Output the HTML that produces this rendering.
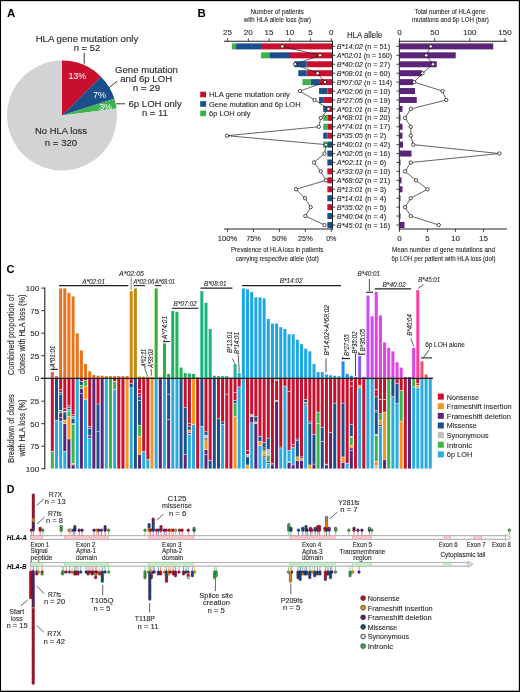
<!DOCTYPE html>
<html><head><meta charset="utf-8"><style>
html,body{margin:0;padding:0;background:#fff;overflow:hidden;}
svg{display:block;will-change:transform;font-family:"Liberation Sans", sans-serif;}
</style></head><body>
<svg width="520" height="692" viewBox="0 0 520 692">
<rect x="0" y="0" width="520" height="692" fill="#fff"/>
<text x="7" y="16.7" font-size="11.5" text-anchor="start" fill="#000" font-weight="bold">A</text>
<path d="M62,115.5 L62.00,60.50 A55,55 0 0 1 100.96,76.68 Z" fill="#c8102e"/>
<path d="M62,115.5 L100.96,76.68 A55,55 0 0 1 114.37,98.70 Z" fill="#1a4f8b"/>
<path d="M62,115.5 L114.37,98.70 A55,55 0 0 1 116.54,108.40 Z" fill="#3cb44b"/>
<path d="M62,115.5 L116.54,108.40 A55,55 0 1 1 62.00,60.50 Z" fill="#d1d3d4"/>
<text x="87" y="42.3" font-size="8.6" text-anchor="middle" fill="#231f20" stroke="#231f20" stroke-width="0.1" textLength="102.7" lengthAdjust="spacingAndGlyphs">HLA gene mutation only</text>
<text x="87" y="51.1" font-size="8.6" text-anchor="middle" fill="#231f20" stroke="#231f20" stroke-width="0.1" textLength="26.6" lengthAdjust="spacingAndGlyphs">n = 52</text>
<line x1="84.2" y1="52.9" x2="84.2" y2="63.8" stroke="#231f20" stroke-width="0.9"/>
<text x="146.5" y="72.5" font-size="8.3" text-anchor="middle" fill="#231f20" stroke="#231f20" stroke-width="0.1" textLength="62.9" lengthAdjust="spacingAndGlyphs">Gene mutation</text>
<text x="146.2" y="81.7" font-size="8.3" text-anchor="middle" fill="#231f20" stroke="#231f20" stroke-width="0.1" textLength="51.9" lengthAdjust="spacingAndGlyphs">and 6p LOH</text>
<text x="146.4" y="91.2" font-size="8.3" text-anchor="middle" fill="#231f20" stroke="#231f20" stroke-width="0.1" textLength="27.3" lengthAdjust="spacingAndGlyphs">n = 29</text>
<line x1="108.7" y1="87.9" x2="117.3" y2="81.2" stroke="#231f20" stroke-width="0.9"/>
<text x="155.1" y="107.1" font-size="8.3" text-anchor="middle" fill="#231f20" stroke="#231f20" stroke-width="0.1" textLength="53.2" lengthAdjust="spacingAndGlyphs">6p LOH only</text>
<text x="154.8" y="115.8" font-size="8.3" text-anchor="middle" fill="#231f20" stroke="#231f20" stroke-width="0.1" textLength="25.8" lengthAdjust="spacingAndGlyphs">n = 11</text>
<line x1="116.3" y1="103.8" x2="125" y2="103.8" stroke="#231f20" stroke-width="0.9"/>
<text x="77.3" y="79.4" font-size="8.7" text-anchor="middle" fill="#fff" textLength="17.7" lengthAdjust="spacingAndGlyphs">13%</text>
<text x="99.6" y="97.7" font-size="8.7" text-anchor="middle" fill="#fff" textLength="13.2" lengthAdjust="spacingAndGlyphs">7%</text>
<text x="105.6" y="109.7" font-size="8.7" text-anchor="middle" fill="#fff" textLength="12.8" lengthAdjust="spacingAndGlyphs">3%</text>
<text x="61" y="133.5" font-size="8.3" text-anchor="middle" fill="#231f20" stroke="#231f20" stroke-width="0.1" textLength="52" lengthAdjust="spacingAndGlyphs">No HLA loss</text>
<text x="61" y="145.5" font-size="8.3" text-anchor="middle" fill="#231f20" stroke="#231f20" stroke-width="0.1" textLength="32.5" lengthAdjust="spacingAndGlyphs">n = 320</text>
<text x="197.5" y="16.7" font-size="11.5" text-anchor="start" fill="#000" font-weight="bold">B</text>
<rect x="260.95" y="43.40" width="71.35" height="6.00" fill="#c8102e"/>
<rect x="236.05" y="43.40" width="24.90" height="6.00" fill="#1a4f8b"/>
<rect x="231.90" y="43.40" width="4.15" height="6.00" fill="#3cb44b"/>
<rect x="290.00" y="52.33" width="42.30" height="6.00" fill="#c8102e"/>
<rect x="269.25" y="52.33" width="20.75" height="6.00" fill="#1a4f8b"/>
<rect x="260.95" y="52.33" width="8.30" height="6.00" fill="#3cb44b"/>
<rect x="306.60" y="61.26" width="25.70" height="6.00" fill="#c8102e"/>
<rect x="294.15" y="61.26" width="12.45" height="6.00" fill="#1a4f8b"/>
<rect x="306.60" y="70.19" width="25.70" height="6.00" fill="#c8102e"/>
<rect x="298.30" y="70.19" width="8.30" height="6.00" fill="#1a4f8b"/>
<rect x="319.05" y="79.12" width="13.25" height="6.00" fill="#c8102e"/>
<rect x="310.75" y="79.12" width="8.30" height="6.00" fill="#1a4f8b"/>
<rect x="302.45" y="79.12" width="8.30" height="6.00" fill="#3cb44b"/>
<rect x="327.35" y="88.05" width="4.95" height="6.00" fill="#c8102e"/>
<rect x="319.05" y="88.05" width="8.30" height="6.00" fill="#1a4f8b"/>
<rect x="323.20" y="96.98" width="9.10" height="6.00" fill="#c8102e"/>
<rect x="319.05" y="96.98" width="4.15" height="6.00" fill="#1a4f8b"/>
<rect x="327.35" y="105.91" width="4.95" height="6.00" fill="#c8102e"/>
<rect x="323.20" y="105.91" width="4.15" height="6.00" fill="#1a4f8b"/>
<rect x="327.35" y="114.84" width="4.95" height="6.00" fill="#c8102e"/>
<rect x="323.20" y="114.84" width="4.15" height="6.00" fill="#3cb44b"/>
<rect x="327.35" y="123.77" width="4.95" height="6.00" fill="#c8102e"/>
<rect x="323.20" y="123.77" width="4.15" height="6.00" fill="#3cb44b"/>
<rect x="327.35" y="132.70" width="4.95" height="6.00" fill="#c8102e"/>
<rect x="323.20" y="132.70" width="4.15" height="6.00" fill="#1a4f8b"/>
<rect x="327.35" y="141.63" width="4.95" height="6.00" fill="#1a4f8b"/>
<rect x="323.20" y="141.63" width="4.15" height="6.00" fill="#3cb44b"/>
<rect x="327.35" y="150.56" width="4.95" height="6.00" fill="#1a4f8b"/>
<rect x="327.35" y="159.49" width="4.95" height="6.00" fill="#1a4f8b"/>
<rect x="327.35" y="168.42" width="4.95" height="6.00" fill="#c8102e"/>
<rect x="327.35" y="177.35" width="4.95" height="6.00" fill="#c8102e"/>
<rect x="327.35" y="186.28" width="4.95" height="6.00" fill="#c8102e"/>
<rect x="327.35" y="195.21" width="4.95" height="6.00" fill="#1a4f8b"/>
<rect x="327.35" y="204.14" width="4.95" height="6.00" fill="#c8102e"/>
<rect x="327.35" y="213.07" width="4.95" height="6.00" fill="#1a4f8b"/>
<rect x="327.35" y="222.00" width="4.95" height="6.00" fill="#1a4f8b"/>
<rect x="399.50" y="43.40" width="93.75" height="6.00" fill="#5c2479"/>
<rect x="399.50" y="52.33" width="56.25" height="6.00" fill="#5c2479"/>
<rect x="399.50" y="61.26" width="37.25" height="6.00" fill="#5c2479"/>
<rect x="399.50" y="70.19" width="22.50" height="6.00" fill="#5c2479"/>
<rect x="399.50" y="79.12" width="13.50" height="6.00" fill="#5c2479"/>
<rect x="399.50" y="88.05" width="15.50" height="6.00" fill="#5c2479"/>
<rect x="399.50" y="96.98" width="17.25" height="6.00" fill="#5c2479"/>
<rect x="399.50" y="105.91" width="3.00" height="6.00" fill="#5c2479"/>
<rect x="399.50" y="114.84" width="1.00" height="6.00" fill="#5c2479"/>
<rect x="399.50" y="123.77" width="3.00" height="6.00" fill="#5c2479"/>
<rect x="399.50" y="132.70" width="3.00" height="6.00" fill="#5c2479"/>
<rect x="399.50" y="141.63" width="3.50" height="6.00" fill="#5c2479"/>
<rect x="399.50" y="150.56" width="12.00" height="6.00" fill="#5c2479"/>
<rect x="399.50" y="159.49" width="1.00" height="6.00" fill="#5c2479"/>
<rect x="399.50" y="168.42" width="0.50" height="6.00" fill="#5c2479"/>
<rect x="399.50" y="177.35" width="2.00" height="6.00" fill="#5c2479"/>
<rect x="399.50" y="186.28" width="3.00" height="6.00" fill="#5c2479"/>
<rect x="399.50" y="195.21" width="1.00" height="6.00" fill="#5c2479"/>
<rect x="399.50" y="204.14" width="0.50" height="6.00" fill="#5c2479"/>
<rect x="399.50" y="213.07" width="1.00" height="6.00" fill="#5c2479"/>
<rect x="399.50" y="222.00" width="5.00" height="6.00" fill="#5c2479"/>
<line x1="224" y1="41.25" x2="333" y2="41.25" stroke="#231f20" stroke-width="1.0"/>
<line x1="332.5" y1="40.8" x2="332.5" y2="229.5" stroke="#231f20" stroke-width="1.0"/>
<line x1="224" y1="229" x2="333" y2="229" stroke="#231f20" stroke-width="1.0"/>
<line x1="227.55" y1="38.2" x2="227.55" y2="41.2" stroke="#231f20" stroke-width="0.8"/>
<text x="227.55" y="35.2" font-size="8.0" text-anchor="middle" fill="#231f20" stroke="#231f20" stroke-width="0.1">25</text>
<line x1="248.3" y1="38.2" x2="248.3" y2="41.2" stroke="#231f20" stroke-width="0.8"/>
<text x="248.3" y="35.2" font-size="8.0" text-anchor="middle" fill="#231f20" stroke="#231f20" stroke-width="0.1">20</text>
<line x1="269.05" y1="38.2" x2="269.05" y2="41.2" stroke="#231f20" stroke-width="0.8"/>
<text x="269.05" y="35.2" font-size="8.0" text-anchor="middle" fill="#231f20" stroke="#231f20" stroke-width="0.1">15</text>
<line x1="289.8" y1="38.2" x2="289.8" y2="41.2" stroke="#231f20" stroke-width="0.8"/>
<text x="289.8" y="35.2" font-size="8.0" text-anchor="middle" fill="#231f20" stroke="#231f20" stroke-width="0.1">10</text>
<line x1="310.55" y1="38.2" x2="310.55" y2="41.2" stroke="#231f20" stroke-width="0.8"/>
<text x="310.55" y="35.2" font-size="8.0" text-anchor="middle" fill="#231f20" stroke="#231f20" stroke-width="0.1">5</text>
<line x1="331.3" y1="38.2" x2="331.3" y2="41.2" stroke="#231f20" stroke-width="0.8"/>
<text x="331.3" y="35.2" font-size="8.0" text-anchor="middle" fill="#231f20" stroke="#231f20" stroke-width="0.1">0</text>
<line x1="227.55" y1="229" x2="227.55" y2="232" stroke="#231f20" stroke-width="0.8"/>
<text x="227.55" y="241.4" font-size="8.0" text-anchor="middle" fill="#231f20" stroke="#231f20" stroke-width="0.1" textLength="19.4" lengthAdjust="spacingAndGlyphs">100%</text>
<line x1="253.4875" y1="229" x2="253.4875" y2="232" stroke="#231f20" stroke-width="0.8"/>
<text x="253.4875" y="241.4" font-size="8.0" text-anchor="middle" fill="#231f20" stroke="#231f20" stroke-width="0.1" textLength="14.7" lengthAdjust="spacingAndGlyphs">75%</text>
<line x1="279.425" y1="229" x2="279.425" y2="232" stroke="#231f20" stroke-width="0.8"/>
<text x="279.425" y="241.4" font-size="8.0" text-anchor="middle" fill="#231f20" stroke="#231f20" stroke-width="0.1" textLength="14.7" lengthAdjust="spacingAndGlyphs">50%</text>
<line x1="305.3625" y1="229" x2="305.3625" y2="232" stroke="#231f20" stroke-width="0.8"/>
<text x="305.3625" y="241.4" font-size="8.0" text-anchor="middle" fill="#231f20" stroke="#231f20" stroke-width="0.1" textLength="14.7" lengthAdjust="spacingAndGlyphs">25%</text>
<line x1="331.3" y1="229" x2="331.3" y2="232" stroke="#231f20" stroke-width="0.8"/>
<text x="331.3" y="241.4" font-size="8.0" text-anchor="middle" fill="#231f20" stroke="#231f20" stroke-width="0.1" textLength="10.3" lengthAdjust="spacingAndGlyphs">0%</text>
<line x1="332.5" y1="46.4" x2="335.3" y2="46.4" stroke="#231f20" stroke-width="0.8"/>
<line x1="332.5" y1="55.33" x2="335.3" y2="55.33" stroke="#231f20" stroke-width="0.8"/>
<line x1="332.5" y1="64.25999999999999" x2="335.3" y2="64.25999999999999" stroke="#231f20" stroke-width="0.8"/>
<line x1="332.5" y1="73.19" x2="335.3" y2="73.19" stroke="#231f20" stroke-width="0.8"/>
<line x1="332.5" y1="82.12" x2="335.3" y2="82.12" stroke="#231f20" stroke-width="0.8"/>
<line x1="332.5" y1="91.05" x2="335.3" y2="91.05" stroke="#231f20" stroke-width="0.8"/>
<line x1="332.5" y1="99.97999999999999" x2="335.3" y2="99.97999999999999" stroke="#231f20" stroke-width="0.8"/>
<line x1="332.5" y1="108.91" x2="335.3" y2="108.91" stroke="#231f20" stroke-width="0.8"/>
<line x1="332.5" y1="117.84" x2="335.3" y2="117.84" stroke="#231f20" stroke-width="0.8"/>
<line x1="332.5" y1="126.77000000000001" x2="335.3" y2="126.77000000000001" stroke="#231f20" stroke-width="0.8"/>
<line x1="332.5" y1="135.7" x2="335.3" y2="135.7" stroke="#231f20" stroke-width="0.8"/>
<line x1="332.5" y1="144.63" x2="335.3" y2="144.63" stroke="#231f20" stroke-width="0.8"/>
<line x1="332.5" y1="153.56" x2="335.3" y2="153.56" stroke="#231f20" stroke-width="0.8"/>
<line x1="332.5" y1="162.49" x2="335.3" y2="162.49" stroke="#231f20" stroke-width="0.8"/>
<line x1="332.5" y1="171.42" x2="335.3" y2="171.42" stroke="#231f20" stroke-width="0.8"/>
<line x1="332.5" y1="180.35" x2="335.3" y2="180.35" stroke="#231f20" stroke-width="0.8"/>
<line x1="332.5" y1="189.28" x2="335.3" y2="189.28" stroke="#231f20" stroke-width="0.8"/>
<line x1="332.5" y1="198.21" x2="335.3" y2="198.21" stroke="#231f20" stroke-width="0.8"/>
<line x1="332.5" y1="207.14000000000001" x2="335.3" y2="207.14000000000001" stroke="#231f20" stroke-width="0.8"/>
<line x1="332.5" y1="216.07" x2="335.3" y2="216.07" stroke="#231f20" stroke-width="0.8"/>
<line x1="332.5" y1="225.0" x2="335.3" y2="225.0" stroke="#231f20" stroke-width="0.8"/>
<line x1="399" y1="41.25" x2="507" y2="41.25" stroke="#231f20" stroke-width="1.0"/>
<line x1="399.3" y1="40.8" x2="399.3" y2="229.5" stroke="#231f20" stroke-width="1.0"/>
<line x1="399" y1="229" x2="507" y2="229" stroke="#231f20" stroke-width="1.0"/>
<line x1="399.5" y1="38.2" x2="399.5" y2="41.2" stroke="#231f20" stroke-width="0.8"/>
<text x="399.5" y="35.2" font-size="8.0" text-anchor="middle" fill="#231f20" stroke="#231f20" stroke-width="0.1">0</text>
<line x1="434.65" y1="38.2" x2="434.65" y2="41.2" stroke="#231f20" stroke-width="0.8"/>
<text x="434.65" y="35.2" font-size="8.0" text-anchor="middle" fill="#231f20" stroke="#231f20" stroke-width="0.1">50</text>
<line x1="469.8" y1="38.2" x2="469.8" y2="41.2" stroke="#231f20" stroke-width="0.8"/>
<text x="469.8" y="35.2" font-size="8.0" text-anchor="middle" fill="#231f20" stroke="#231f20" stroke-width="0.1">100</text>
<line x1="504.95" y1="38.2" x2="504.95" y2="41.2" stroke="#231f20" stroke-width="0.8"/>
<text x="504.95" y="35.2" font-size="8.0" text-anchor="middle" fill="#231f20" stroke="#231f20" stroke-width="0.1">150</text>
<line x1="399.5" y1="229" x2="399.5" y2="232" stroke="#231f20" stroke-width="0.8"/>
<text x="399.5" y="241.4" font-size="8.0" text-anchor="middle" fill="#231f20" stroke="#231f20" stroke-width="0.1">0</text>
<line x1="427.5" y1="229" x2="427.5" y2="232" stroke="#231f20" stroke-width="0.8"/>
<text x="427.5" y="241.4" font-size="8.0" text-anchor="middle" fill="#231f20" stroke="#231f20" stroke-width="0.1">5</text>
<line x1="455.5" y1="229" x2="455.5" y2="232" stroke="#231f20" stroke-width="0.8"/>
<text x="455.5" y="241.4" font-size="8.0" text-anchor="middle" fill="#231f20" stroke="#231f20" stroke-width="0.1">10</text>
<line x1="483.5" y1="229" x2="483.5" y2="232" stroke="#231f20" stroke-width="0.8"/>
<text x="483.5" y="241.4" font-size="8.0" text-anchor="middle" fill="#231f20" stroke="#231f20" stroke-width="0.1">15</text>
<line x1="396.3" y1="46.4" x2="399.3" y2="46.4" stroke="#231f20" stroke-width="0.8"/>
<line x1="396.3" y1="55.33" x2="399.3" y2="55.33" stroke="#231f20" stroke-width="0.8"/>
<line x1="396.3" y1="64.25999999999999" x2="399.3" y2="64.25999999999999" stroke="#231f20" stroke-width="0.8"/>
<line x1="396.3" y1="73.19" x2="399.3" y2="73.19" stroke="#231f20" stroke-width="0.8"/>
<line x1="396.3" y1="82.12" x2="399.3" y2="82.12" stroke="#231f20" stroke-width="0.8"/>
<line x1="396.3" y1="91.05" x2="399.3" y2="91.05" stroke="#231f20" stroke-width="0.8"/>
<line x1="396.3" y1="99.97999999999999" x2="399.3" y2="99.97999999999999" stroke="#231f20" stroke-width="0.8"/>
<line x1="396.3" y1="108.91" x2="399.3" y2="108.91" stroke="#231f20" stroke-width="0.8"/>
<line x1="396.3" y1="117.84" x2="399.3" y2="117.84" stroke="#231f20" stroke-width="0.8"/>
<line x1="396.3" y1="126.77000000000001" x2="399.3" y2="126.77000000000001" stroke="#231f20" stroke-width="0.8"/>
<line x1="396.3" y1="135.7" x2="399.3" y2="135.7" stroke="#231f20" stroke-width="0.8"/>
<line x1="396.3" y1="144.63" x2="399.3" y2="144.63" stroke="#231f20" stroke-width="0.8"/>
<line x1="396.3" y1="153.56" x2="399.3" y2="153.56" stroke="#231f20" stroke-width="0.8"/>
<line x1="396.3" y1="162.49" x2="399.3" y2="162.49" stroke="#231f20" stroke-width="0.8"/>
<line x1="396.3" y1="171.42" x2="399.3" y2="171.42" stroke="#231f20" stroke-width="0.8"/>
<line x1="396.3" y1="180.35" x2="399.3" y2="180.35" stroke="#231f20" stroke-width="0.8"/>
<line x1="396.3" y1="189.28" x2="399.3" y2="189.28" stroke="#231f20" stroke-width="0.8"/>
<line x1="396.3" y1="198.21" x2="399.3" y2="198.21" stroke="#231f20" stroke-width="0.8"/>
<line x1="396.3" y1="207.14000000000001" x2="399.3" y2="207.14000000000001" stroke="#231f20" stroke-width="0.8"/>
<line x1="396.3" y1="216.07" x2="399.3" y2="216.07" stroke="#231f20" stroke-width="0.8"/>
<line x1="396.3" y1="225.0" x2="399.3" y2="225.0" stroke="#231f20" stroke-width="0.8"/>
<text x="364.6" y="38.0" font-size="8.6" text-anchor="middle" fill="#231f20" stroke="#231f20" stroke-width="0.1" textLength="35.4" lengthAdjust="spacingAndGlyphs">HLA allele</text>
<text x="336.8" y="49.00" font-size="7.4" fill="#231f20" stroke="#231f20" stroke-width="0.1" textLength="53.3" lengthAdjust="spacingAndGlyphs"><tspan font-style="italic">B*14:02</tspan> (n = 51)</text>
<text x="336.8" y="57.93" font-size="7.4" fill="#231f20" stroke="#231f20" stroke-width="0.1" textLength="55.3" lengthAdjust="spacingAndGlyphs"><tspan font-style="italic">A*02:01</tspan> (n = 160)</text>
<text x="336.8" y="66.86" font-size="7.4" fill="#231f20" stroke="#231f20" stroke-width="0.1" textLength="53.3" lengthAdjust="spacingAndGlyphs"><tspan font-style="italic">B*40:02</tspan> (n = 27)</text>
<text x="336.8" y="75.79" font-size="7.4" fill="#231f20" stroke="#231f20" stroke-width="0.1" textLength="53.3" lengthAdjust="spacingAndGlyphs"><tspan font-style="italic">B*08:01</tspan> (n = 60)</text>
<text x="336.8" y="84.72" font-size="7.4" fill="#231f20" stroke="#231f20" stroke-width="0.1" textLength="55.3" lengthAdjust="spacingAndGlyphs"><tspan font-style="italic">B*07:02</tspan> (n = 114)</text>
<text x="336.8" y="93.65" font-size="7.4" fill="#231f20" stroke="#231f20" stroke-width="0.1" textLength="53.3" lengthAdjust="spacingAndGlyphs"><tspan font-style="italic">A*02:06</tspan> (n = 10)</text>
<text x="336.8" y="102.58" font-size="7.4" fill="#231f20" stroke="#231f20" stroke-width="0.1" textLength="53.3" lengthAdjust="spacingAndGlyphs"><tspan font-style="italic">B*27:05</tspan> (n = 19)</text>
<text x="336.8" y="111.51" font-size="7.4" fill="#231f20" stroke="#231f20" stroke-width="0.1" textLength="53.3" lengthAdjust="spacingAndGlyphs"><tspan font-style="italic">A*01:01</tspan> (n = 82)</text>
<text x="336.8" y="120.44" font-size="7.4" fill="#231f20" stroke="#231f20" stroke-width="0.1" textLength="53.3" lengthAdjust="spacingAndGlyphs"><tspan font-style="italic">A*68:01</tspan> (n = 20)</text>
<text x="336.8" y="129.37" font-size="7.4" fill="#231f20" stroke="#231f20" stroke-width="0.1" textLength="53.3" lengthAdjust="spacingAndGlyphs"><tspan font-style="italic">A*74:01</tspan> (n = 17)</text>
<text x="336.8" y="138.30" font-size="7.4" fill="#231f20" stroke="#231f20" stroke-width="0.1" textLength="49.5" lengthAdjust="spacingAndGlyphs"><tspan font-style="italic">B*35:05</tspan> (n = 2)</text>
<text x="336.8" y="147.23" font-size="7.4" fill="#231f20" stroke="#231f20" stroke-width="0.1" textLength="53.3" lengthAdjust="spacingAndGlyphs"><tspan font-style="italic">B*40:01</tspan> (n = 42)</text>
<text x="336.8" y="156.16" font-size="7.4" fill="#231f20" stroke="#231f20" stroke-width="0.1" textLength="53.3" lengthAdjust="spacingAndGlyphs"><tspan font-style="italic">A*02:05</tspan> (n = 16)</text>
<text x="336.8" y="165.09" font-size="7.4" fill="#231f20" stroke="#231f20" stroke-width="0.1" textLength="49.5" lengthAdjust="spacingAndGlyphs"><tspan font-style="italic">A*02:11</tspan> (n = 6)</text>
<text x="336.8" y="174.02" font-size="7.4" fill="#231f20" stroke="#231f20" stroke-width="0.1" textLength="53.3" lengthAdjust="spacingAndGlyphs"><tspan font-style="italic">A*33:03</tspan> (n = 10)</text>
<text x="336.8" y="182.95" font-size="7.4" fill="#231f20" stroke="#231f20" stroke-width="0.1" textLength="53.3" lengthAdjust="spacingAndGlyphs"><tspan font-style="italic">A*68:02</tspan> (n = 21)</text>
<text x="336.8" y="191.88" font-size="7.4" fill="#231f20" stroke="#231f20" stroke-width="0.1" textLength="49.5" lengthAdjust="spacingAndGlyphs"><tspan font-style="italic">B*13:01</tspan> (n = 3)</text>
<text x="336.8" y="200.81" font-size="7.4" fill="#231f20" stroke="#231f20" stroke-width="0.1" textLength="49.5" lengthAdjust="spacingAndGlyphs"><tspan font-style="italic">B*14:01</tspan> (n = 4)</text>
<text x="336.8" y="209.74" font-size="7.4" fill="#231f20" stroke="#231f20" stroke-width="0.1" textLength="49.5" lengthAdjust="spacingAndGlyphs"><tspan font-style="italic">B*35:02</tspan> (n = 5)</text>
<text x="336.8" y="218.67" font-size="7.4" fill="#231f20" stroke="#231f20" stroke-width="0.1" textLength="49.5" lengthAdjust="spacingAndGlyphs"><tspan font-style="italic">B*40:04</tspan> (n = 4)</text>
<text x="336.8" y="227.60" font-size="7.4" fill="#231f20" stroke="#231f20" stroke-width="0.1" textLength="53.3" lengthAdjust="spacingAndGlyphs"><tspan font-style="italic">B*45:01</tspan> (n = 16)</text>
<text x="277.2" y="13.6" font-size="7.8" text-anchor="middle" fill="#231f20" stroke="#231f20" stroke-width="0.1" textLength="53.3" lengthAdjust="spacingAndGlyphs">Number of patients</text>
<text x="277.5" y="22.3" font-size="7.8" text-anchor="middle" fill="#231f20" stroke="#231f20" stroke-width="0.1" textLength="67.3" lengthAdjust="spacingAndGlyphs">with HLA allele loss (bar)</text>
<text x="450.0" y="13.5" font-size="7.8" text-anchor="middle" fill="#231f20" stroke="#231f20" stroke-width="0.1" textLength="71.2" lengthAdjust="spacingAndGlyphs">Total number of HLA gene</text>
<text x="450.35" y="22.3" font-size="7.8" text-anchor="middle" fill="#231f20" stroke="#231f20" stroke-width="0.1" textLength="76.9" lengthAdjust="spacingAndGlyphs">mutations and 6p LOH (bar)</text>
<text x="277.2" y="251.5" font-size="7.8" text-anchor="middle" fill="#231f20" stroke="#231f20" stroke-width="0.1" textLength="92.4" lengthAdjust="spacingAndGlyphs">Prevalence of HLA loss in patients</text>
<text x="277.2" y="260.6" font-size="7.8" text-anchor="middle" fill="#231f20" stroke="#231f20" stroke-width="0.1" textLength="83.1" lengthAdjust="spacingAndGlyphs">carrying respective allele (dot)</text>
<text x="443.5" y="251.5" font-size="7.8" text-anchor="middle" fill="#231f20" stroke="#231f20" stroke-width="0.1" textLength="103" lengthAdjust="spacingAndGlyphs">Mean number of gene mutations and</text>
<text x="443.5" y="260.6" font-size="7.8" text-anchor="middle" fill="#231f20" stroke="#231f20" stroke-width="0.1" textLength="104" lengthAdjust="spacingAndGlyphs">6p LOH per patient with HLA loss (dot)</text>
<rect x="200.20" y="91.70" width="5.90" height="5.60" fill="#c8102e"/>
<text x="209" y="97.3" font-size="8.0" text-anchor="start" fill="#231f20" stroke="#231f20" stroke-width="0.1" textLength="80.8" lengthAdjust="spacingAndGlyphs">HLA gene mutation only</text>
<rect x="200.20" y="101.15" width="5.90" height="5.60" fill="#1a4f8b"/>
<text x="209" y="106.75" font-size="8.0" text-anchor="start" fill="#231f20" stroke="#231f20" stroke-width="0.1" textLength="91.6" lengthAdjust="spacingAndGlyphs">Gene mutation and 6p LOH</text>
<rect x="200.20" y="110.60" width="5.90" height="5.60" fill="#3cb44b"/>
<text x="209" y="116.19999999999999" font-size="8.0" text-anchor="start" fill="#231f20" stroke="#231f20" stroke-width="0.1" textLength="41.5" lengthAdjust="spacingAndGlyphs">6p LOH only</text>
<polyline points="282.3,46.40 320.0,55.33 295.0,64.26 317.6,73.19 325.0,82.12 300.0,91.05 314.6,99.98 328.5,108.91 320.8,117.84 318.8,126.77 227.0,135.70 326.0,144.63 324.5,153.56 314.0,162.49 320.8,171.42 326.0,180.35 296.0,189.28 305.0,198.21 310.7,207.14 305.4,216.07 324.5,225.00" fill="none" stroke="#231f20" stroke-width="0.7"/>
<circle cx="282.30" cy="46.40" r="1.7" fill="#fff" stroke="#231f20" stroke-width="0.8"/>
<circle cx="320.00" cy="55.33" r="1.7" fill="#fff" stroke="#231f20" stroke-width="0.8"/>
<circle cx="295.00" cy="64.26" r="1.7" fill="#fff" stroke="#231f20" stroke-width="0.8"/>
<circle cx="317.60" cy="73.19" r="1.7" fill="#fff" stroke="#231f20" stroke-width="0.8"/>
<circle cx="325.00" cy="82.12" r="1.7" fill="#fff" stroke="#231f20" stroke-width="0.8"/>
<circle cx="300.00" cy="91.05" r="1.7" fill="#fff" stroke="#231f20" stroke-width="0.8"/>
<circle cx="314.60" cy="99.98" r="1.7" fill="#fff" stroke="#231f20" stroke-width="0.8"/>
<circle cx="328.50" cy="108.91" r="1.7" fill="#fff" stroke="#231f20" stroke-width="0.8"/>
<circle cx="320.80" cy="117.84" r="1.7" fill="#fff" stroke="#231f20" stroke-width="0.8"/>
<circle cx="318.80" cy="126.77" r="1.7" fill="#fff" stroke="#231f20" stroke-width="0.8"/>
<circle cx="227.00" cy="135.70" r="1.7" fill="#fff" stroke="#231f20" stroke-width="0.8"/>
<circle cx="326.00" cy="144.63" r="1.7" fill="#fff" stroke="#231f20" stroke-width="0.8"/>
<circle cx="324.50" cy="153.56" r="1.7" fill="#fff" stroke="#231f20" stroke-width="0.8"/>
<circle cx="314.00" cy="162.49" r="1.7" fill="#fff" stroke="#231f20" stroke-width="0.8"/>
<circle cx="320.80" cy="171.42" r="1.7" fill="#fff" stroke="#231f20" stroke-width="0.8"/>
<circle cx="326.00" cy="180.35" r="1.7" fill="#fff" stroke="#231f20" stroke-width="0.8"/>
<circle cx="296.00" cy="189.28" r="1.7" fill="#fff" stroke="#231f20" stroke-width="0.8"/>
<circle cx="305.00" cy="198.21" r="1.7" fill="#fff" stroke="#231f20" stroke-width="0.8"/>
<circle cx="310.70" cy="207.14" r="1.7" fill="#fff" stroke="#231f20" stroke-width="0.8"/>
<circle cx="305.40" cy="216.07" r="1.7" fill="#fff" stroke="#231f20" stroke-width="0.8"/>
<circle cx="324.50" cy="225.00" r="1.7" fill="#fff" stroke="#231f20" stroke-width="0.8"/>
<polyline points="430.8,46.40 426.2,55.33 433.0,64.26 422.5,73.19 414.2,82.12 442.5,91.05 446.2,99.98 410.8,108.91 405.0,117.84 410.8,126.77 410.8,135.70 413.2,144.63 499.5,153.56 410.8,162.49 405.0,171.42 416.0,180.35 427.5,189.28 410.8,198.21 405.0,207.14 410.8,216.07 438.8,225.00" fill="none" stroke="#231f20" stroke-width="0.7"/>
<circle cx="430.75" cy="46.40" r="1.7" fill="#fff" stroke="#231f20" stroke-width="0.8"/>
<circle cx="426.25" cy="55.33" r="1.7" fill="#fff" stroke="#231f20" stroke-width="0.8"/>
<circle cx="433.00" cy="64.26" r="1.7" fill="#fff" stroke="#231f20" stroke-width="0.8"/>
<circle cx="422.50" cy="73.19" r="1.7" fill="#fff" stroke="#231f20" stroke-width="0.8"/>
<circle cx="414.25" cy="82.12" r="1.7" fill="#fff" stroke="#231f20" stroke-width="0.8"/>
<circle cx="442.50" cy="91.05" r="1.7" fill="#fff" stroke="#231f20" stroke-width="0.8"/>
<circle cx="446.25" cy="99.98" r="1.7" fill="#fff" stroke="#231f20" stroke-width="0.8"/>
<circle cx="410.75" cy="108.91" r="1.7" fill="#fff" stroke="#231f20" stroke-width="0.8"/>
<circle cx="405.00" cy="117.84" r="1.7" fill="#fff" stroke="#231f20" stroke-width="0.8"/>
<circle cx="410.75" cy="126.77" r="1.7" fill="#fff" stroke="#231f20" stroke-width="0.8"/>
<circle cx="410.75" cy="135.70" r="1.7" fill="#fff" stroke="#231f20" stroke-width="0.8"/>
<circle cx="413.25" cy="144.63" r="1.7" fill="#fff" stroke="#231f20" stroke-width="0.8"/>
<circle cx="499.50" cy="153.56" r="1.7" fill="#fff" stroke="#231f20" stroke-width="0.8"/>
<circle cx="410.75" cy="162.49" r="1.7" fill="#fff" stroke="#231f20" stroke-width="0.8"/>
<circle cx="405.00" cy="171.42" r="1.7" fill="#fff" stroke="#231f20" stroke-width="0.8"/>
<circle cx="416.00" cy="180.35" r="1.7" fill="#fff" stroke="#231f20" stroke-width="0.8"/>
<circle cx="427.50" cy="189.28" r="1.7" fill="#fff" stroke="#231f20" stroke-width="0.8"/>
<circle cx="410.75" cy="198.21" r="1.7" fill="#fff" stroke="#231f20" stroke-width="0.8"/>
<circle cx="405.00" cy="207.14" r="1.7" fill="#fff" stroke="#231f20" stroke-width="0.8"/>
<circle cx="410.75" cy="216.07" r="1.7" fill="#fff" stroke="#231f20" stroke-width="0.8"/>
<circle cx="438.75" cy="225.00" r="1.7" fill="#fff" stroke="#231f20" stroke-width="0.8"/>
<rect x="50.83" y="372.10" width="3.00" height="6.30" fill="#f05a5a"/>
<rect x="54.98" y="376.15" width="3.00" height="2.25" fill="#f05a5a"/>
<rect x="59.14" y="288.40" width="3.00" height="90.00" fill="#e8731c"/>
<rect x="63.29" y="288.40" width="3.00" height="90.00" fill="#e8731c"/>
<rect x="67.44" y="292.90" width="3.00" height="85.50" fill="#e8731c"/>
<rect x="71.59" y="296.50" width="3.00" height="81.90" fill="#e8731c"/>
<rect x="75.75" y="333.40" width="3.00" height="45.00" fill="#e8731c"/>
<rect x="79.90" y="350.50" width="3.00" height="27.90" fill="#e8731c"/>
<rect x="84.05" y="364.00" width="3.00" height="14.40" fill="#e8731c"/>
<rect x="88.21" y="371.20" width="3.00" height="7.20" fill="#e8731c"/>
<rect x="92.36" y="374.80" width="3.00" height="3.60" fill="#e8731c"/>
<rect x="96.51" y="375.70" width="3.00" height="2.70" fill="#e8731c"/>
<rect x="100.67" y="375.70" width="3.00" height="2.70" fill="#e8731c"/>
<rect x="104.82" y="376.15" width="3.00" height="2.25" fill="#e8731c"/>
<rect x="108.97" y="376.15" width="3.00" height="2.25" fill="#e8731c"/>
<rect x="113.12" y="376.15" width="3.00" height="2.25" fill="#e8731c"/>
<rect x="117.28" y="376.15" width="3.00" height="2.25" fill="#e8731c"/>
<rect x="121.43" y="376.15" width="3.00" height="2.25" fill="#e8731c"/>
<rect x="125.58" y="376.15" width="3.00" height="2.25" fill="#e8731c"/>
<rect x="129.74" y="291.10" width="3.00" height="87.30" fill="#d9820f"/>
<rect x="133.89" y="288.40" width="3.00" height="90.00" fill="#b98c10"/>
<rect x="138.04" y="376.60" width="3.00" height="1.80" fill="#b98c10"/>
<rect x="142.20" y="376.60" width="3.00" height="1.80" fill="#b98c10"/>
<rect x="146.35" y="376.60" width="3.00" height="1.80" fill="#9c9a1e"/>
<rect x="150.50" y="377.05" width="3.00" height="1.35" fill="#7aa72c"/>
<rect x="154.65" y="288.40" width="3.00" height="90.00" fill="#3aaa35"/>
<rect x="158.81" y="377.05" width="3.00" height="1.35" fill="#3aaa35"/>
<rect x="162.96" y="343.30" width="3.00" height="35.10" fill="#24b14b"/>
<rect x="167.11" y="373.90" width="3.00" height="4.50" fill="#24b14b"/>
<rect x="171.27" y="310.90" width="3.00" height="67.50" fill="#1fb35c"/>
<rect x="175.42" y="311.80" width="3.00" height="66.60" fill="#1fb35c"/>
<rect x="179.57" y="367.60" width="3.00" height="10.80" fill="#1fb35c"/>
<rect x="183.73" y="373.00" width="3.00" height="5.40" fill="#1fb35c"/>
<rect x="187.88" y="373.45" width="3.00" height="4.95" fill="#1fb35c"/>
<rect x="192.03" y="373.90" width="3.00" height="4.50" fill="#1fb35c"/>
<rect x="196.19" y="377.05" width="3.00" height="1.35" fill="#1fb35c"/>
<rect x="200.34" y="291.10" width="3.00" height="87.30" fill="#1cb383"/>
<rect x="204.49" y="302.80" width="3.00" height="75.60" fill="#1cb383"/>
<rect x="208.64" y="328.90" width="3.00" height="49.50" fill="#1cb383"/>
<rect x="212.80" y="375.70" width="3.00" height="2.70" fill="#1cb383"/>
<rect x="216.95" y="376.15" width="3.00" height="2.25" fill="#1cb383"/>
<rect x="221.10" y="376.15" width="3.00" height="2.25" fill="#1cb383"/>
<rect x="225.26" y="376.15" width="3.00" height="2.25" fill="#1cb383"/>
<rect x="229.41" y="377.50" width="3.00" height="0.90" fill="#1cb383"/>
<rect x="233.56" y="364.00" width="3.00" height="14.40" fill="#1db89b"/>
<rect x="237.71" y="373.00" width="3.00" height="5.40" fill="#1fb0c6"/>
<rect x="241.87" y="288.40" width="3.00" height="90.00" fill="#1ea7e6"/>
<rect x="246.02" y="289.30" width="3.00" height="89.10" fill="#1ea7e6"/>
<rect x="250.17" y="292.00" width="3.00" height="86.40" fill="#1ea7e6"/>
<rect x="254.33" y="297.40" width="3.00" height="81.00" fill="#1ea7e6"/>
<rect x="258.48" y="297.40" width="3.00" height="81.00" fill="#1ea7e6"/>
<rect x="262.63" y="298.30" width="3.00" height="80.10" fill="#1ea7e6"/>
<rect x="266.79" y="319.00" width="3.00" height="59.40" fill="#1ea7e6"/>
<rect x="270.94" y="323.50" width="3.00" height="54.90" fill="#1ea7e6"/>
<rect x="275.09" y="323.50" width="3.00" height="54.90" fill="#1ea7e6"/>
<rect x="279.24" y="327.10" width="3.00" height="51.30" fill="#1ea7e6"/>
<rect x="283.40" y="328.90" width="3.00" height="49.50" fill="#1ea7e6"/>
<rect x="287.55" y="334.30" width="3.00" height="44.10" fill="#1ea7e6"/>
<rect x="291.70" y="334.30" width="3.00" height="44.10" fill="#1ea7e6"/>
<rect x="295.86" y="339.70" width="3.00" height="38.70" fill="#1ea7e6"/>
<rect x="300.01" y="344.20" width="3.00" height="34.20" fill="#1ea7e6"/>
<rect x="304.16" y="348.70" width="3.00" height="29.70" fill="#1ea7e6"/>
<rect x="308.32" y="351.40" width="3.00" height="27.00" fill="#1ea7e6"/>
<rect x="312.47" y="364.00" width="3.00" height="14.40" fill="#1ea7e6"/>
<rect x="316.62" y="372.10" width="3.00" height="6.30" fill="#1ea7e6"/>
<rect x="320.77" y="372.10" width="3.00" height="6.30" fill="#1ea7e6"/>
<rect x="324.93" y="374.35" width="3.00" height="4.05" fill="#1ea7e6"/>
<rect x="329.08" y="375.25" width="3.00" height="3.15" fill="#1ea7e6"/>
<rect x="333.23" y="375.70" width="3.00" height="2.70" fill="#1ea7e6"/>
<rect x="337.39" y="376.15" width="3.00" height="2.25" fill="#1ea7e6"/>
<rect x="341.54" y="361.30" width="3.00" height="17.10" fill="#1a8cff"/>
<rect x="345.69" y="373.90" width="3.00" height="4.50" fill="#1a8cff"/>
<rect x="349.85" y="375.70" width="3.00" height="2.70" fill="#1a8cff"/>
<rect x="354.00" y="377.05" width="3.00" height="1.35" fill="#3d6fe0"/>
<rect x="358.15" y="355.90" width="3.00" height="22.50" fill="#8a5cff"/>
<rect x="362.30" y="377.05" width="3.00" height="1.35" fill="#8a5cff"/>
<rect x="366.46" y="295.60" width="3.00" height="82.80" fill="#c84cff"/>
<rect x="370.61" y="316.30" width="3.00" height="62.10" fill="#c84cff"/>
<rect x="374.76" y="292.00" width="3.00" height="86.40" fill="#e042e6"/>
<rect x="378.92" y="315.40" width="3.00" height="63.00" fill="#e042e6"/>
<rect x="383.07" y="342.40" width="3.00" height="36.00" fill="#e042e6"/>
<rect x="387.22" y="347.80" width="3.00" height="30.60" fill="#e042e6"/>
<rect x="391.38" y="351.40" width="3.00" height="27.00" fill="#e042e6"/>
<rect x="395.53" y="362.20" width="3.00" height="16.20" fill="#e042e6"/>
<rect x="399.68" y="367.60" width="3.00" height="10.80" fill="#e042e6"/>
<rect x="403.83" y="377.05" width="3.00" height="1.35" fill="#9b30c0"/>
<rect x="407.99" y="377.05" width="3.00" height="1.35" fill="#9b30c0"/>
<rect x="412.14" y="347.80" width="3.00" height="30.60" fill="#e23ee8"/>
<rect x="416.29" y="290.20" width="3.00" height="88.20" fill="#ff3d9e"/>
<rect x="420.45" y="361.30" width="3.00" height="17.10" fill="#f5506e"/>
<rect x="424.60" y="374.35" width="3.00" height="4.05" fill="#f5506e"/>
<rect x="428.75" y="377.50" width="3.00" height="0.90" fill="#f5506e"/>
<rect x="50.83" y="378.90" width="3.00" height="72.66" fill="#c8102e"/>
<rect x="50.83" y="451.56" width="3.00" height="17.04" fill="#3ab54a"/>
<rect x="50.83" y="451.31" width="3.00" height="0.50" fill="#fff"/>
<rect x="54.98" y="378.90" width="3.00" height="41.26" fill="#1a4f8b"/>
<rect x="54.98" y="420.16" width="3.00" height="48.44" fill="#29abe2"/>
<rect x="54.98" y="419.91" width="3.00" height="0.50" fill="#fff"/>
<rect x="59.14" y="378.90" width="3.00" height="10.76" fill="#c8102e"/>
<rect x="59.14" y="389.66" width="3.00" height="2.69" fill="#c8102e"/>
<rect x="59.14" y="389.41" width="3.00" height="0.50" fill="#fff"/>
<rect x="59.14" y="392.35" width="3.00" height="1.79" fill="#1a4f8b"/>
<rect x="59.14" y="392.10" width="3.00" height="0.50" fill="#fff"/>
<rect x="59.14" y="394.15" width="3.00" height="16.15" fill="#1a4f8b"/>
<rect x="59.14" y="393.90" width="3.00" height="0.50" fill="#fff"/>
<rect x="59.14" y="410.30" width="3.00" height="2.69" fill="#3ab54a"/>
<rect x="59.14" y="410.05" width="3.00" height="0.50" fill="#fff"/>
<rect x="59.14" y="412.99" width="3.00" height="4.49" fill="#5c2479"/>
<rect x="59.14" y="412.74" width="3.00" height="0.50" fill="#fff"/>
<rect x="59.14" y="417.47" width="3.00" height="3.59" fill="#5c2479"/>
<rect x="59.14" y="417.22" width="3.00" height="0.50" fill="#fff"/>
<rect x="59.14" y="421.06" width="3.00" height="47.54" fill="#29abe2"/>
<rect x="59.14" y="420.81" width="3.00" height="0.50" fill="#fff"/>
<rect x="63.29" y="378.90" width="3.00" height="29.60" fill="#c8102e"/>
<rect x="63.29" y="408.50" width="3.00" height="2.69" fill="#c8102e"/>
<rect x="63.29" y="408.25" width="3.00" height="0.50" fill="#fff"/>
<rect x="63.29" y="411.19" width="3.00" height="0.90" fill="#29abe2"/>
<rect x="63.29" y="410.94" width="3.00" height="0.50" fill="#fff"/>
<rect x="63.29" y="412.09" width="3.00" height="8.07" fill="#1a4f8b"/>
<rect x="63.29" y="411.84" width="3.00" height="0.50" fill="#fff"/>
<rect x="63.29" y="420.16" width="3.00" height="3.59" fill="#f7941d"/>
<rect x="63.29" y="419.91" width="3.00" height="0.50" fill="#fff"/>
<rect x="63.29" y="423.75" width="3.00" height="27.81" fill="#5c2479"/>
<rect x="63.29" y="423.50" width="3.00" height="0.50" fill="#fff"/>
<rect x="63.29" y="451.56" width="3.00" height="17.04" fill="#29abe2"/>
<rect x="63.29" y="451.31" width="3.00" height="0.50" fill="#fff"/>
<rect x="67.44" y="378.90" width="3.00" height="26.91" fill="#c8102e"/>
<rect x="67.44" y="405.81" width="3.00" height="1.79" fill="#c8102e"/>
<rect x="67.44" y="405.56" width="3.00" height="0.50" fill="#fff"/>
<rect x="67.44" y="407.60" width="3.00" height="1.79" fill="#1a4f8b"/>
<rect x="67.44" y="407.35" width="3.00" height="0.50" fill="#fff"/>
<rect x="67.44" y="409.40" width="3.00" height="1.79" fill="#29abe2"/>
<rect x="67.44" y="409.15" width="3.00" height="0.50" fill="#fff"/>
<rect x="67.44" y="411.19" width="3.00" height="5.38" fill="#3ab54a"/>
<rect x="67.44" y="410.94" width="3.00" height="0.50" fill="#fff"/>
<rect x="67.44" y="416.57" width="3.00" height="22.43" fill="#f7941d"/>
<rect x="67.44" y="416.32" width="3.00" height="0.50" fill="#fff"/>
<rect x="67.44" y="439.00" width="3.00" height="29.60" fill="#5c2479"/>
<rect x="67.44" y="438.75" width="3.00" height="0.50" fill="#fff"/>
<rect x="71.59" y="378.90" width="3.00" height="35.88" fill="#c8102e"/>
<rect x="71.59" y="414.78" width="3.00" height="1.79" fill="#c8102e"/>
<rect x="71.59" y="414.53" width="3.00" height="0.50" fill="#fff"/>
<rect x="71.59" y="416.57" width="3.00" height="1.79" fill="#29abe2"/>
<rect x="71.59" y="416.32" width="3.00" height="0.50" fill="#fff"/>
<rect x="71.59" y="418.37" width="3.00" height="5.38" fill="#1a4f8b"/>
<rect x="71.59" y="418.12" width="3.00" height="0.50" fill="#fff"/>
<rect x="71.59" y="423.75" width="3.00" height="0.90" fill="#3ab54a"/>
<rect x="71.59" y="423.50" width="3.00" height="0.50" fill="#fff"/>
<rect x="71.59" y="424.65" width="3.00" height="38.57" fill="#3ab54a"/>
<rect x="71.59" y="424.40" width="3.00" height="0.50" fill="#fff"/>
<rect x="71.59" y="463.22" width="3.00" height="1.79" fill="#f7941d"/>
<rect x="71.59" y="462.97" width="3.00" height="0.50" fill="#fff"/>
<rect x="71.59" y="465.01" width="3.00" height="3.59" fill="#5c2479"/>
<rect x="71.59" y="464.76" width="3.00" height="0.50" fill="#fff"/>
<rect x="75.75" y="378.90" width="3.00" height="89.70" fill="#29abe2"/>
<rect x="79.90" y="378.90" width="3.00" height="2.69" fill="#c8102e"/>
<rect x="79.90" y="381.59" width="3.00" height="3.59" fill="#1a4f8b"/>
<rect x="79.90" y="381.34" width="3.00" height="0.50" fill="#fff"/>
<rect x="79.90" y="385.18" width="3.00" height="3.59" fill="#3ab54a"/>
<rect x="79.90" y="384.93" width="3.00" height="0.50" fill="#fff"/>
<rect x="79.90" y="388.77" width="3.00" height="4.49" fill="#5c2479"/>
<rect x="79.90" y="388.52" width="3.00" height="0.50" fill="#fff"/>
<rect x="79.90" y="393.25" width="3.00" height="75.35" fill="#5c2479"/>
<rect x="79.90" y="393.00" width="3.00" height="0.50" fill="#fff"/>
<rect x="84.05" y="378.90" width="3.00" height="1.79" fill="#c8102e"/>
<rect x="84.05" y="380.69" width="3.00" height="5.38" fill="#3ab54a"/>
<rect x="84.05" y="380.44" width="3.00" height="0.50" fill="#fff"/>
<rect x="84.05" y="386.08" width="3.00" height="13.46" fill="#f7941d"/>
<rect x="84.05" y="385.83" width="3.00" height="0.50" fill="#fff"/>
<rect x="84.05" y="399.53" width="3.00" height="69.07" fill="#29abe2"/>
<rect x="84.05" y="399.28" width="3.00" height="0.50" fill="#fff"/>
<rect x="88.21" y="378.90" width="3.00" height="47.54" fill="#c8102e"/>
<rect x="88.21" y="426.44" width="3.00" height="1.79" fill="#c8102e"/>
<rect x="88.21" y="426.19" width="3.00" height="0.50" fill="#fff"/>
<rect x="88.21" y="428.24" width="3.00" height="7.18" fill="#1a4f8b"/>
<rect x="88.21" y="427.99" width="3.00" height="0.50" fill="#fff"/>
<rect x="88.21" y="435.41" width="3.00" height="2.69" fill="#5c2479"/>
<rect x="88.21" y="435.16" width="3.00" height="0.50" fill="#fff"/>
<rect x="88.21" y="438.10" width="3.00" height="30.50" fill="#29abe2"/>
<rect x="88.21" y="437.85" width="3.00" height="0.50" fill="#fff"/>
<rect x="92.36" y="378.90" width="3.00" height="89.70" fill="#5c2479"/>
<rect x="96.51" y="378.90" width="3.00" height="25.12" fill="#c8102e"/>
<rect x="96.51" y="404.02" width="3.00" height="27.81" fill="#1a4f8b"/>
<rect x="96.51" y="403.77" width="3.00" height="0.50" fill="#fff"/>
<rect x="96.51" y="431.82" width="3.00" height="36.78" fill="#1a4f8b"/>
<rect x="96.51" y="431.57" width="3.00" height="0.50" fill="#fff"/>
<rect x="100.67" y="378.90" width="3.00" height="89.70" fill="#5c2479"/>
<rect x="104.82" y="378.90" width="3.00" height="89.70" fill="#29abe2"/>
<rect x="108.97" y="378.90" width="3.00" height="89.70" fill="#3ab54a"/>
<rect x="113.12" y="378.90" width="3.00" height="2.69" fill="#c8102e"/>
<rect x="113.12" y="381.59" width="3.00" height="8.07" fill="#3ab54a"/>
<rect x="113.12" y="381.34" width="3.00" height="0.50" fill="#fff"/>
<rect x="113.12" y="389.66" width="3.00" height="78.94" fill="#29abe2"/>
<rect x="113.12" y="389.41" width="3.00" height="0.50" fill="#fff"/>
<rect x="117.28" y="378.90" width="3.00" height="89.70" fill="#c8102e"/>
<rect x="121.43" y="378.90" width="3.00" height="89.70" fill="#c8102e"/>
<rect x="125.58" y="378.90" width="3.00" height="89.70" fill="#f7941d"/>
<rect x="129.74" y="378.90" width="3.00" height="4.49" fill="#c8102e"/>
<rect x="129.74" y="383.38" width="3.00" height="4.49" fill="#1a4f8b"/>
<rect x="129.74" y="383.13" width="3.00" height="0.50" fill="#fff"/>
<rect x="129.74" y="387.87" width="3.00" height="80.73" fill="#29abe2"/>
<rect x="129.74" y="387.62" width="3.00" height="0.50" fill="#fff"/>
<rect x="133.89" y="378.90" width="3.00" height="89.70" fill="#1a4f8b"/>
<rect x="138.04" y="378.90" width="3.00" height="10.76" fill="#c8102e"/>
<rect x="138.04" y="389.66" width="3.00" height="3.59" fill="#c8102e"/>
<rect x="138.04" y="389.41" width="3.00" height="0.50" fill="#fff"/>
<rect x="138.04" y="393.25" width="3.00" height="3.59" fill="#c8102e"/>
<rect x="138.04" y="393.00" width="3.00" height="0.50" fill="#fff"/>
<rect x="138.04" y="396.84" width="3.00" height="3.59" fill="#1a4f8b"/>
<rect x="138.04" y="396.59" width="3.00" height="0.50" fill="#fff"/>
<rect x="138.04" y="400.43" width="3.00" height="25.12" fill="#1a4f8b"/>
<rect x="138.04" y="400.18" width="3.00" height="0.50" fill="#fff"/>
<rect x="138.04" y="425.54" width="3.00" height="10.76" fill="#3ab54a"/>
<rect x="138.04" y="425.29" width="3.00" height="0.50" fill="#fff"/>
<rect x="138.04" y="436.31" width="3.00" height="17.94" fill="#f7941d"/>
<rect x="138.04" y="436.06" width="3.00" height="0.50" fill="#fff"/>
<rect x="138.04" y="454.25" width="3.00" height="14.35" fill="#5c2479"/>
<rect x="138.04" y="454.00" width="3.00" height="0.50" fill="#fff"/>
<rect x="142.20" y="378.90" width="3.00" height="72.66" fill="#c8102e"/>
<rect x="142.20" y="451.56" width="3.00" height="17.04" fill="#29abe2"/>
<rect x="142.20" y="451.31" width="3.00" height="0.50" fill="#fff"/>
<rect x="146.35" y="378.90" width="3.00" height="80.73" fill="#c8102e"/>
<rect x="146.35" y="459.63" width="3.00" height="8.97" fill="#29abe2"/>
<rect x="146.35" y="459.38" width="3.00" height="0.50" fill="#fff"/>
<rect x="150.50" y="378.90" width="3.00" height="89.70" fill="#f7941d"/>
<rect x="154.65" y="378.90" width="3.00" height="89.70" fill="#29abe2"/>
<rect x="158.81" y="378.90" width="3.00" height="89.70" fill="#5c2479"/>
<rect x="162.96" y="378.90" width="3.00" height="89.70" fill="#29abe2"/>
<rect x="167.11" y="378.90" width="3.00" height="15.25" fill="#1a4f8b"/>
<rect x="167.11" y="394.15" width="3.00" height="25.12" fill="#1a4f8b"/>
<rect x="167.11" y="393.90" width="3.00" height="0.50" fill="#fff"/>
<rect x="167.11" y="419.26" width="3.00" height="49.34" fill="#5c2479"/>
<rect x="167.11" y="419.01" width="3.00" height="0.50" fill="#fff"/>
<rect x="171.27" y="378.90" width="3.00" height="89.70" fill="#29abe2"/>
<rect x="175.42" y="378.90" width="3.00" height="89.70" fill="#29abe2"/>
<rect x="179.57" y="378.90" width="3.00" height="89.70" fill="#1a4f8b"/>
<rect x="183.73" y="378.90" width="3.00" height="28.70" fill="#c8102e"/>
<rect x="183.73" y="407.60" width="3.00" height="46.64" fill="#1a4f8b"/>
<rect x="183.73" y="407.35" width="3.00" height="0.50" fill="#fff"/>
<rect x="183.73" y="454.25" width="3.00" height="14.35" fill="#5c2479"/>
<rect x="183.73" y="454.00" width="3.00" height="0.50" fill="#fff"/>
<rect x="187.88" y="378.90" width="3.00" height="44.85" fill="#c8102e"/>
<rect x="187.88" y="423.75" width="3.00" height="2.69" fill="#c8102e"/>
<rect x="187.88" y="423.50" width="3.00" height="0.50" fill="#fff"/>
<rect x="187.88" y="426.44" width="3.00" height="3.59" fill="#1a4f8b"/>
<rect x="187.88" y="426.19" width="3.00" height="0.50" fill="#fff"/>
<rect x="187.88" y="430.03" width="3.00" height="2.69" fill="#f7941d"/>
<rect x="187.88" y="429.78" width="3.00" height="0.50" fill="#fff"/>
<rect x="187.88" y="432.72" width="3.00" height="1.79" fill="#5c2479"/>
<rect x="187.88" y="432.47" width="3.00" height="0.50" fill="#fff"/>
<rect x="187.88" y="434.51" width="3.00" height="34.09" fill="#29abe2"/>
<rect x="187.88" y="434.26" width="3.00" height="0.50" fill="#fff"/>
<rect x="192.03" y="378.90" width="3.00" height="45.75" fill="#f7941d"/>
<rect x="192.03" y="424.65" width="3.00" height="43.95" fill="#29abe2"/>
<rect x="192.03" y="424.40" width="3.00" height="0.50" fill="#fff"/>
<rect x="196.19" y="378.90" width="3.00" height="89.70" fill="#c8102e"/>
<rect x="200.34" y="378.90" width="3.00" height="47.54" fill="#1a4f8b"/>
<rect x="200.34" y="426.44" width="3.00" height="42.16" fill="#29abe2"/>
<rect x="200.34" y="426.19" width="3.00" height="0.50" fill="#fff"/>
<rect x="204.49" y="378.90" width="3.00" height="52.92" fill="#c8102e"/>
<rect x="204.49" y="431.82" width="3.00" height="3.59" fill="#1a4f8b"/>
<rect x="204.49" y="431.57" width="3.00" height="0.50" fill="#fff"/>
<rect x="204.49" y="435.41" width="3.00" height="2.69" fill="#bcbec0"/>
<rect x="204.49" y="435.16" width="3.00" height="0.50" fill="#fff"/>
<rect x="204.49" y="438.10" width="3.00" height="1.79" fill="#1a4f8b"/>
<rect x="204.49" y="437.85" width="3.00" height="0.50" fill="#fff"/>
<rect x="204.49" y="439.90" width="3.00" height="9.87" fill="#f7941d"/>
<rect x="204.49" y="439.65" width="3.00" height="0.50" fill="#fff"/>
<rect x="204.49" y="449.76" width="3.00" height="4.49" fill="#5c2479"/>
<rect x="204.49" y="449.51" width="3.00" height="0.50" fill="#fff"/>
<rect x="204.49" y="454.25" width="3.00" height="14.35" fill="#5c2479"/>
<rect x="204.49" y="454.00" width="3.00" height="0.50" fill="#fff"/>
<rect x="208.64" y="378.90" width="3.00" height="81.63" fill="#c8102e"/>
<rect x="208.64" y="460.53" width="3.00" height="8.07" fill="#1a4f8b"/>
<rect x="208.64" y="460.28" width="3.00" height="0.50" fill="#fff"/>
<rect x="212.80" y="378.90" width="3.00" height="89.70" fill="#1a4f8b"/>
<rect x="216.95" y="378.90" width="3.00" height="39.47" fill="#c8102e"/>
<rect x="216.95" y="418.37" width="3.00" height="50.23" fill="#1a4f8b"/>
<rect x="216.95" y="418.12" width="3.00" height="0.50" fill="#fff"/>
<rect x="221.10" y="378.90" width="3.00" height="43.06" fill="#c8102e"/>
<rect x="221.10" y="421.96" width="3.00" height="2.69" fill="#1a4f8b"/>
<rect x="221.10" y="421.71" width="3.00" height="0.50" fill="#fff"/>
<rect x="221.10" y="424.65" width="3.00" height="43.95" fill="#29abe2"/>
<rect x="221.10" y="424.40" width="3.00" height="0.50" fill="#fff"/>
<rect x="225.26" y="378.90" width="3.00" height="15.25" fill="#c8102e"/>
<rect x="225.26" y="394.15" width="3.00" height="74.45" fill="#c8102e"/>
<rect x="225.26" y="393.90" width="3.00" height="0.50" fill="#fff"/>
<rect x="229.41" y="378.90" width="3.00" height="89.70" fill="#c8102e"/>
<rect x="233.56" y="378.90" width="3.00" height="13.45" fill="#c8102e"/>
<rect x="233.56" y="392.35" width="3.00" height="8.07" fill="#c8102e"/>
<rect x="233.56" y="392.10" width="3.00" height="0.50" fill="#fff"/>
<rect x="233.56" y="400.43" width="3.00" height="2.69" fill="#1a4f8b"/>
<rect x="233.56" y="400.18" width="3.00" height="0.50" fill="#fff"/>
<rect x="233.56" y="403.12" width="3.00" height="13.46" fill="#3ab54a"/>
<rect x="233.56" y="402.87" width="3.00" height="0.50" fill="#fff"/>
<rect x="233.56" y="416.57" width="3.00" height="52.03" fill="#f7941d"/>
<rect x="233.56" y="416.32" width="3.00" height="0.50" fill="#fff"/>
<rect x="237.71" y="378.90" width="3.00" height="8.07" fill="#c8102e"/>
<rect x="237.71" y="386.97" width="3.00" height="81.63" fill="#29abe2"/>
<rect x="237.71" y="386.72" width="3.00" height="0.50" fill="#fff"/>
<rect x="241.87" y="378.90" width="3.00" height="89.70" fill="#29abe2"/>
<rect x="246.02" y="378.90" width="3.00" height="71.76" fill="#c8102e"/>
<rect x="246.02" y="450.66" width="3.00" height="3.59" fill="#c8102e"/>
<rect x="246.02" y="450.41" width="3.00" height="0.50" fill="#fff"/>
<rect x="246.02" y="454.25" width="3.00" height="2.69" fill="#bcbec0"/>
<rect x="246.02" y="454.00" width="3.00" height="0.50" fill="#fff"/>
<rect x="246.02" y="456.94" width="3.00" height="8.07" fill="#1a4f8b"/>
<rect x="246.02" y="456.69" width="3.00" height="0.50" fill="#fff"/>
<rect x="246.02" y="465.01" width="3.00" height="3.59" fill="#f7941d"/>
<rect x="246.02" y="464.76" width="3.00" height="0.50" fill="#fff"/>
<rect x="250.17" y="378.90" width="3.00" height="35.88" fill="#c8102e"/>
<rect x="250.17" y="414.78" width="3.00" height="1.79" fill="#bcbec0"/>
<rect x="250.17" y="414.53" width="3.00" height="0.50" fill="#fff"/>
<rect x="250.17" y="416.57" width="3.00" height="6.28" fill="#5c2479"/>
<rect x="250.17" y="416.32" width="3.00" height="0.50" fill="#fff"/>
<rect x="250.17" y="422.85" width="3.00" height="45.75" fill="#29abe2"/>
<rect x="250.17" y="422.60" width="3.00" height="0.50" fill="#fff"/>
<rect x="254.33" y="378.90" width="3.00" height="37.67" fill="#c8102e"/>
<rect x="254.33" y="416.57" width="3.00" height="5.38" fill="#1a4f8b"/>
<rect x="254.33" y="416.32" width="3.00" height="0.50" fill="#fff"/>
<rect x="254.33" y="421.96" width="3.00" height="1.79" fill="#f7941d"/>
<rect x="254.33" y="421.71" width="3.00" height="0.50" fill="#fff"/>
<rect x="254.33" y="423.75" width="3.00" height="44.85" fill="#5c2479"/>
<rect x="254.33" y="423.50" width="3.00" height="0.50" fill="#fff"/>
<rect x="258.48" y="378.90" width="3.00" height="57.41" fill="#c8102e"/>
<rect x="258.48" y="436.31" width="3.00" height="5.38" fill="#1a4f8b"/>
<rect x="258.48" y="436.06" width="3.00" height="0.50" fill="#fff"/>
<rect x="258.48" y="441.69" width="3.00" height="3.59" fill="#f7941d"/>
<rect x="258.48" y="441.44" width="3.00" height="0.50" fill="#fff"/>
<rect x="258.48" y="445.28" width="3.00" height="23.32" fill="#29abe2"/>
<rect x="258.48" y="445.03" width="3.00" height="0.50" fill="#fff"/>
<rect x="262.63" y="378.90" width="3.00" height="63.69" fill="#c8102e"/>
<rect x="262.63" y="442.59" width="3.00" height="5.38" fill="#1a4f8b"/>
<rect x="262.63" y="442.34" width="3.00" height="0.50" fill="#fff"/>
<rect x="262.63" y="447.97" width="3.00" height="2.69" fill="#1a4f8b"/>
<rect x="262.63" y="447.72" width="3.00" height="0.50" fill="#fff"/>
<rect x="262.63" y="450.66" width="3.00" height="1.79" fill="#3ab54a"/>
<rect x="262.63" y="450.41" width="3.00" height="0.50" fill="#fff"/>
<rect x="262.63" y="452.45" width="3.00" height="3.59" fill="#f7941d"/>
<rect x="262.63" y="452.20" width="3.00" height="0.50" fill="#fff"/>
<rect x="262.63" y="456.04" width="3.00" height="1.79" fill="#5c2479"/>
<rect x="262.63" y="455.79" width="3.00" height="0.50" fill="#fff"/>
<rect x="262.63" y="457.84" width="3.00" height="10.76" fill="#29abe2"/>
<rect x="262.63" y="457.59" width="3.00" height="0.50" fill="#fff"/>
<rect x="266.79" y="378.90" width="3.00" height="59.20" fill="#c8102e"/>
<rect x="266.79" y="438.10" width="3.00" height="11.66" fill="#1a4f8b"/>
<rect x="266.79" y="437.85" width="3.00" height="0.50" fill="#fff"/>
<rect x="266.79" y="449.76" width="3.00" height="5.38" fill="#bcbec0"/>
<rect x="266.79" y="449.51" width="3.00" height="0.50" fill="#fff"/>
<rect x="266.79" y="455.14" width="3.00" height="6.28" fill="#3ab54a"/>
<rect x="266.79" y="454.89" width="3.00" height="0.50" fill="#fff"/>
<rect x="266.79" y="461.42" width="3.00" height="1.79" fill="#5c2479"/>
<rect x="266.79" y="461.17" width="3.00" height="0.50" fill="#fff"/>
<rect x="266.79" y="463.22" width="3.00" height="5.38" fill="#29abe2"/>
<rect x="266.79" y="462.97" width="3.00" height="0.50" fill="#fff"/>
<rect x="270.94" y="378.90" width="3.00" height="84.32" fill="#c8102e"/>
<rect x="270.94" y="463.22" width="3.00" height="1.79" fill="#1a4f8b"/>
<rect x="270.94" y="462.97" width="3.00" height="0.50" fill="#fff"/>
<rect x="270.94" y="465.01" width="3.00" height="3.59" fill="#5c2479"/>
<rect x="270.94" y="464.76" width="3.00" height="0.50" fill="#fff"/>
<rect x="275.09" y="378.90" width="3.00" height="1.79" fill="#3ab54a"/>
<rect x="275.09" y="380.69" width="3.00" height="19.73" fill="#c8102e"/>
<rect x="275.09" y="380.44" width="3.00" height="0.50" fill="#fff"/>
<rect x="275.09" y="400.43" width="3.00" height="0.90" fill="#3ab54a"/>
<rect x="275.09" y="400.18" width="3.00" height="0.50" fill="#fff"/>
<rect x="275.09" y="401.32" width="3.00" height="67.28" fill="#5c2479"/>
<rect x="275.09" y="401.07" width="3.00" height="0.50" fill="#fff"/>
<rect x="279.24" y="378.90" width="3.00" height="68.17" fill="#c8102e"/>
<rect x="279.24" y="447.07" width="3.00" height="1.79" fill="#1a4f8b"/>
<rect x="279.24" y="446.82" width="3.00" height="0.50" fill="#fff"/>
<rect x="279.24" y="448.87" width="3.00" height="19.73" fill="#29abe2"/>
<rect x="279.24" y="448.62" width="3.00" height="0.50" fill="#fff"/>
<rect x="283.40" y="378.90" width="3.00" height="7.18" fill="#c8102e"/>
<rect x="283.40" y="386.08" width="3.00" height="82.52" fill="#29abe2"/>
<rect x="283.40" y="385.83" width="3.00" height="0.50" fill="#fff"/>
<rect x="287.55" y="378.90" width="3.00" height="12.56" fill="#c8102e"/>
<rect x="287.55" y="391.46" width="3.00" height="59.20" fill="#c8102e"/>
<rect x="287.55" y="391.21" width="3.00" height="0.50" fill="#fff"/>
<rect x="287.55" y="450.66" width="3.00" height="10.76" fill="#29abe2"/>
<rect x="287.55" y="450.41" width="3.00" height="0.50" fill="#fff"/>
<rect x="287.55" y="461.42" width="3.00" height="0.90" fill="#3ab54a"/>
<rect x="287.55" y="461.17" width="3.00" height="0.50" fill="#fff"/>
<rect x="287.55" y="462.32" width="3.00" height="6.28" fill="#5c2479"/>
<rect x="287.55" y="462.07" width="3.00" height="0.50" fill="#fff"/>
<rect x="291.70" y="378.90" width="3.00" height="65.48" fill="#c8102e"/>
<rect x="291.70" y="444.38" width="3.00" height="2.69" fill="#c8102e"/>
<rect x="291.70" y="444.13" width="3.00" height="0.50" fill="#fff"/>
<rect x="291.70" y="447.07" width="3.00" height="17.94" fill="#29abe2"/>
<rect x="291.70" y="446.82" width="3.00" height="0.50" fill="#fff"/>
<rect x="291.70" y="465.01" width="3.00" height="3.59" fill="#5c2479"/>
<rect x="291.70" y="464.76" width="3.00" height="0.50" fill="#fff"/>
<rect x="295.86" y="378.90" width="3.00" height="60.10" fill="#c8102e"/>
<rect x="295.86" y="439.00" width="3.00" height="1.79" fill="#1a4f8b"/>
<rect x="295.86" y="438.75" width="3.00" height="0.50" fill="#fff"/>
<rect x="295.86" y="440.79" width="3.00" height="16.15" fill="#1a4f8b"/>
<rect x="295.86" y="440.54" width="3.00" height="0.50" fill="#fff"/>
<rect x="295.86" y="456.94" width="3.00" height="3.59" fill="#f7941d"/>
<rect x="295.86" y="456.69" width="3.00" height="0.50" fill="#fff"/>
<rect x="295.86" y="460.53" width="3.00" height="8.07" fill="#5c2479"/>
<rect x="295.86" y="460.28" width="3.00" height="0.50" fill="#fff"/>
<rect x="300.01" y="378.90" width="3.00" height="78.04" fill="#c8102e"/>
<rect x="300.01" y="456.94" width="3.00" height="1.79" fill="#1a4f8b"/>
<rect x="300.01" y="456.69" width="3.00" height="0.50" fill="#fff"/>
<rect x="300.01" y="458.73" width="3.00" height="1.79" fill="#f7941d"/>
<rect x="300.01" y="458.48" width="3.00" height="0.50" fill="#fff"/>
<rect x="300.01" y="460.53" width="3.00" height="8.07" fill="#5c2479"/>
<rect x="300.01" y="460.28" width="3.00" height="0.50" fill="#fff"/>
<rect x="304.16" y="378.90" width="3.00" height="20.63" fill="#c8102e"/>
<rect x="304.16" y="399.53" width="3.00" height="2.69" fill="#1a4f8b"/>
<rect x="304.16" y="399.28" width="3.00" height="0.50" fill="#fff"/>
<rect x="304.16" y="402.22" width="3.00" height="1.79" fill="#3ab54a"/>
<rect x="304.16" y="401.97" width="3.00" height="0.50" fill="#fff"/>
<rect x="304.16" y="404.02" width="3.00" height="1.79" fill="#5c2479"/>
<rect x="304.16" y="403.77" width="3.00" height="0.50" fill="#fff"/>
<rect x="304.16" y="405.81" width="3.00" height="62.79" fill="#29abe2"/>
<rect x="304.16" y="405.56" width="3.00" height="0.50" fill="#fff"/>
<rect x="308.32" y="378.90" width="3.00" height="43.06" fill="#c8102e"/>
<rect x="308.32" y="421.96" width="3.00" height="1.79" fill="#1a4f8b"/>
<rect x="308.32" y="421.71" width="3.00" height="0.50" fill="#fff"/>
<rect x="308.32" y="423.75" width="3.00" height="41.26" fill="#1a4f8b"/>
<rect x="308.32" y="423.50" width="3.00" height="0.50" fill="#fff"/>
<rect x="308.32" y="465.01" width="3.00" height="3.59" fill="#f7941d"/>
<rect x="308.32" y="464.76" width="3.00" height="0.50" fill="#fff"/>
<rect x="312.47" y="378.90" width="3.00" height="55.61" fill="#c8102e"/>
<rect x="312.47" y="434.51" width="3.00" height="29.60" fill="#1a4f8b"/>
<rect x="312.47" y="434.26" width="3.00" height="0.50" fill="#fff"/>
<rect x="312.47" y="464.12" width="3.00" height="4.49" fill="#5c2479"/>
<rect x="312.47" y="463.87" width="3.00" height="0.50" fill="#fff"/>
<rect x="316.62" y="378.90" width="3.00" height="33.19" fill="#c8102e"/>
<rect x="316.62" y="412.09" width="3.00" height="11.66" fill="#3ab54a"/>
<rect x="316.62" y="411.84" width="3.00" height="0.50" fill="#fff"/>
<rect x="316.62" y="423.75" width="3.00" height="44.85" fill="#3ab54a"/>
<rect x="316.62" y="423.50" width="3.00" height="0.50" fill="#fff"/>
<rect x="320.77" y="378.90" width="3.00" height="48.44" fill="#c8102e"/>
<rect x="320.77" y="427.34" width="3.00" height="14.35" fill="#1a4f8b"/>
<rect x="320.77" y="427.09" width="3.00" height="0.50" fill="#fff"/>
<rect x="320.77" y="441.69" width="3.00" height="26.91" fill="#1a4f8b"/>
<rect x="320.77" y="441.44" width="3.00" height="0.50" fill="#fff"/>
<rect x="324.93" y="378.90" width="3.00" height="85.22" fill="#c8102e"/>
<rect x="324.93" y="464.12" width="3.00" height="0.90" fill="#3ab54a"/>
<rect x="324.93" y="463.87" width="3.00" height="0.50" fill="#fff"/>
<rect x="324.93" y="465.01" width="3.00" height="3.59" fill="#5c2479"/>
<rect x="324.93" y="464.76" width="3.00" height="0.50" fill="#fff"/>
<rect x="329.08" y="378.90" width="3.00" height="53.82" fill="#c8102e"/>
<rect x="329.08" y="432.72" width="3.00" height="35.88" fill="#5c2479"/>
<rect x="329.08" y="432.47" width="3.00" height="0.50" fill="#fff"/>
<rect x="333.23" y="378.90" width="3.00" height="24.22" fill="#c8102e"/>
<rect x="333.23" y="403.12" width="3.00" height="65.48" fill="#1a4f8b"/>
<rect x="333.23" y="402.87" width="3.00" height="0.50" fill="#fff"/>
<rect x="337.39" y="378.90" width="3.00" height="89.70" fill="#c8102e"/>
<rect x="341.54" y="378.90" width="3.00" height="24.22" fill="#c8102e"/>
<rect x="341.54" y="403.12" width="3.00" height="53.82" fill="#1a4f8b"/>
<rect x="341.54" y="402.87" width="3.00" height="0.50" fill="#fff"/>
<rect x="341.54" y="456.94" width="3.00" height="5.38" fill="#f7941d"/>
<rect x="341.54" y="456.69" width="3.00" height="0.50" fill="#fff"/>
<rect x="341.54" y="462.32" width="3.00" height="6.28" fill="#5c2479"/>
<rect x="341.54" y="462.07" width="3.00" height="0.50" fill="#fff"/>
<rect x="345.69" y="378.90" width="3.00" height="84.32" fill="#c8102e"/>
<rect x="345.69" y="463.22" width="3.00" height="5.38" fill="#29abe2"/>
<rect x="345.69" y="462.97" width="3.00" height="0.50" fill="#fff"/>
<rect x="349.85" y="378.90" width="3.00" height="2.69" fill="#c8102e"/>
<rect x="349.85" y="381.59" width="3.00" height="4.49" fill="#c8102e"/>
<rect x="349.85" y="381.34" width="3.00" height="0.50" fill="#fff"/>
<rect x="349.85" y="386.08" width="3.00" height="38.57" fill="#c8102e"/>
<rect x="349.85" y="385.83" width="3.00" height="0.50" fill="#fff"/>
<rect x="349.85" y="424.65" width="3.00" height="11.66" fill="#1a4f8b"/>
<rect x="349.85" y="424.40" width="3.00" height="0.50" fill="#fff"/>
<rect x="349.85" y="436.31" width="3.00" height="0.90" fill="#bcbec0"/>
<rect x="349.85" y="436.06" width="3.00" height="0.50" fill="#fff"/>
<rect x="349.85" y="437.20" width="3.00" height="8.07" fill="#3ab54a"/>
<rect x="349.85" y="436.95" width="3.00" height="0.50" fill="#fff"/>
<rect x="349.85" y="445.28" width="3.00" height="2.69" fill="#f7941d"/>
<rect x="349.85" y="445.03" width="3.00" height="0.50" fill="#fff"/>
<rect x="349.85" y="447.97" width="3.00" height="2.69" fill="#5c2479"/>
<rect x="349.85" y="447.72" width="3.00" height="0.50" fill="#fff"/>
<rect x="349.85" y="450.66" width="3.00" height="17.94" fill="#5c2479"/>
<rect x="349.85" y="450.41" width="3.00" height="0.50" fill="#fff"/>
<rect x="354.00" y="378.90" width="3.00" height="89.70" fill="#c8102e"/>
<rect x="358.15" y="378.90" width="3.00" height="6.28" fill="#c8102e"/>
<rect x="358.15" y="385.18" width="3.00" height="2.69" fill="#f7941d"/>
<rect x="358.15" y="384.93" width="3.00" height="0.50" fill="#fff"/>
<rect x="358.15" y="387.87" width="3.00" height="80.73" fill="#29abe2"/>
<rect x="358.15" y="387.62" width="3.00" height="0.50" fill="#fff"/>
<rect x="362.30" y="378.90" width="3.00" height="89.70" fill="#c8102e"/>
<rect x="366.46" y="378.90" width="3.00" height="89.70" fill="#29abe2"/>
<rect x="370.61" y="378.90" width="3.00" height="89.70" fill="#29abe2"/>
<rect x="374.76" y="378.90" width="3.00" height="10.76" fill="#c8102e"/>
<rect x="374.76" y="389.66" width="3.00" height="7.18" fill="#c8102e"/>
<rect x="374.76" y="389.41" width="3.00" height="0.50" fill="#fff"/>
<rect x="374.76" y="396.84" width="3.00" height="13.46" fill="#1a4f8b"/>
<rect x="374.76" y="396.59" width="3.00" height="0.50" fill="#fff"/>
<rect x="374.76" y="410.30" width="3.00" height="1.79" fill="#1a4f8b"/>
<rect x="374.76" y="410.05" width="3.00" height="0.50" fill="#fff"/>
<rect x="374.76" y="412.09" width="3.00" height="22.43" fill="#1a4f8b"/>
<rect x="374.76" y="411.84" width="3.00" height="0.50" fill="#fff"/>
<rect x="374.76" y="434.51" width="3.00" height="0.90" fill="#bcbec0"/>
<rect x="374.76" y="434.26" width="3.00" height="0.50" fill="#fff"/>
<rect x="374.76" y="435.41" width="3.00" height="26.01" fill="#3ab54a"/>
<rect x="374.76" y="435.16" width="3.00" height="0.50" fill="#fff"/>
<rect x="374.76" y="461.42" width="3.00" height="4.48" fill="#f7941d"/>
<rect x="374.76" y="461.17" width="3.00" height="0.50" fill="#fff"/>
<rect x="374.76" y="465.91" width="3.00" height="2.69" fill="#bcbec0"/>
<rect x="374.76" y="465.66" width="3.00" height="0.50" fill="#fff"/>
<rect x="378.92" y="378.90" width="3.00" height="20.63" fill="#c8102e"/>
<rect x="378.92" y="399.53" width="3.00" height="14.35" fill="#c8102e"/>
<rect x="378.92" y="399.28" width="3.00" height="0.50" fill="#fff"/>
<rect x="378.92" y="413.88" width="3.00" height="6.28" fill="#3ab54a"/>
<rect x="378.92" y="413.63" width="3.00" height="0.50" fill="#fff"/>
<rect x="378.92" y="420.16" width="3.00" height="4.49" fill="#f7941d"/>
<rect x="378.92" y="419.91" width="3.00" height="0.50" fill="#fff"/>
<rect x="378.92" y="424.65" width="3.00" height="1.79" fill="#5c2479"/>
<rect x="378.92" y="424.40" width="3.00" height="0.50" fill="#fff"/>
<rect x="378.92" y="426.44" width="3.00" height="42.16" fill="#29abe2"/>
<rect x="378.92" y="426.19" width="3.00" height="0.50" fill="#fff"/>
<rect x="383.07" y="378.90" width="3.00" height="20.63" fill="#c8102e"/>
<rect x="383.07" y="399.53" width="3.00" height="12.56" fill="#c8102e"/>
<rect x="383.07" y="399.28" width="3.00" height="0.50" fill="#fff"/>
<rect x="383.07" y="412.09" width="3.00" height="47.54" fill="#f7941d"/>
<rect x="383.07" y="411.84" width="3.00" height="0.50" fill="#fff"/>
<rect x="383.07" y="459.63" width="3.00" height="8.97" fill="#5c2479"/>
<rect x="383.07" y="459.38" width="3.00" height="0.50" fill="#fff"/>
<rect x="387.22" y="378.90" width="3.00" height="89.70" fill="#3ab54a"/>
<rect x="391.38" y="378.90" width="3.00" height="17.94" fill="#1a4f8b"/>
<rect x="391.38" y="396.84" width="3.00" height="71.76" fill="#29abe2"/>
<rect x="391.38" y="396.59" width="3.00" height="0.50" fill="#fff"/>
<rect x="395.53" y="378.90" width="3.00" height="4.49" fill="#c8102e"/>
<rect x="395.53" y="383.38" width="3.00" height="19.73" fill="#1a4f8b"/>
<rect x="395.53" y="383.13" width="3.00" height="0.50" fill="#fff"/>
<rect x="395.53" y="403.12" width="3.00" height="65.48" fill="#29abe2"/>
<rect x="395.53" y="402.87" width="3.00" height="0.50" fill="#fff"/>
<rect x="399.68" y="378.90" width="3.00" height="11.66" fill="#c8102e"/>
<rect x="399.68" y="390.56" width="3.00" height="30.50" fill="#3ab54a"/>
<rect x="399.68" y="390.31" width="3.00" height="0.50" fill="#fff"/>
<rect x="399.68" y="421.06" width="3.00" height="47.54" fill="#f7941d"/>
<rect x="399.68" y="420.81" width="3.00" height="0.50" fill="#fff"/>
<rect x="403.83" y="378.90" width="3.00" height="89.70" fill="#c8102e"/>
<rect x="407.99" y="378.90" width="3.00" height="89.70" fill="#5c2479"/>
<rect x="412.14" y="378.90" width="3.00" height="8.07" fill="#3ab54a"/>
<rect x="412.14" y="386.97" width="3.00" height="81.63" fill="#29abe2"/>
<rect x="412.14" y="386.72" width="3.00" height="0.50" fill="#fff"/>
<rect x="416.29" y="378.90" width="3.00" height="4.49" fill="#c8102e"/>
<rect x="416.29" y="383.38" width="3.00" height="1.79" fill="#c8102e"/>
<rect x="416.29" y="383.13" width="3.00" height="0.50" fill="#fff"/>
<rect x="416.29" y="385.18" width="3.00" height="2.69" fill="#f7941d"/>
<rect x="416.29" y="384.93" width="3.00" height="0.50" fill="#fff"/>
<rect x="416.29" y="387.87" width="3.00" height="80.73" fill="#29abe2"/>
<rect x="416.29" y="387.62" width="3.00" height="0.50" fill="#fff"/>
<rect x="420.45" y="378.90" width="3.00" height="89.70" fill="#29abe2"/>
<rect x="424.60" y="378.90" width="3.00" height="89.70" fill="#29abe2"/>
<rect x="428.75" y="378.90" width="3.00" height="89.70" fill="#29abe2"/>
<line x1="44.8" y1="287.6" x2="44.8" y2="469.2" stroke="#231f20" stroke-width="1.1"/>
<line x1="40.8" y1="378.4" x2="433" y2="378.4" stroke="#231f20" stroke-width="1.2"/>
<line x1="41.2" y1="288.1" x2="44.8" y2="288.1" stroke="#231f20" stroke-width="0.9"/>
<text x="39.2" y="291.1" font-size="8.0" text-anchor="end" fill="#231f20" stroke="#231f20" stroke-width="0.1">100</text>
<line x1="41.2" y1="310.65000000000003" x2="44.8" y2="310.65000000000003" stroke="#231f20" stroke-width="0.9"/>
<text x="39.2" y="313.65000000000003" font-size="8.0" text-anchor="end" fill="#231f20" stroke="#231f20" stroke-width="0.1">75</text>
<line x1="41.2" y1="333.20000000000005" x2="44.8" y2="333.20000000000005" stroke="#231f20" stroke-width="0.9"/>
<text x="39.2" y="336.20000000000005" font-size="8.0" text-anchor="end" fill="#231f20" stroke="#231f20" stroke-width="0.1">50</text>
<line x1="41.2" y1="355.75" x2="44.8" y2="355.75" stroke="#231f20" stroke-width="0.9"/>
<text x="39.2" y="358.75" font-size="8.0" text-anchor="end" fill="#231f20" stroke="#231f20" stroke-width="0.1">25</text>
<line x1="41.2" y1="378.3" x2="44.8" y2="378.3" stroke="#231f20" stroke-width="0.9"/>
<text x="39.2" y="381.3" font-size="8.0" text-anchor="end" fill="#231f20" stroke="#231f20" stroke-width="0.1">0</text>
<line x1="41.2" y1="401.2" x2="44.8" y2="401.2" stroke="#231f20" stroke-width="0.9"/>
<text x="39.2" y="404.2" font-size="8.0" text-anchor="end" fill="#231f20" stroke="#231f20" stroke-width="0.1">25</text>
<line x1="41.2" y1="423.7" x2="44.8" y2="423.7" stroke="#231f20" stroke-width="0.9"/>
<text x="39.2" y="426.7" font-size="8.0" text-anchor="end" fill="#231f20" stroke="#231f20" stroke-width="0.1">50</text>
<line x1="41.2" y1="446.2" x2="44.8" y2="446.2" stroke="#231f20" stroke-width="0.9"/>
<text x="39.2" y="449.2" font-size="8.0" text-anchor="end" fill="#231f20" stroke="#231f20" stroke-width="0.1">75</text>
<line x1="41.2" y1="468.7" x2="44.8" y2="468.7" stroke="#231f20" stroke-width="0.9"/>
<text x="39.2" y="471.7" font-size="8.0" text-anchor="end" fill="#231f20" stroke="#231f20" stroke-width="0.1">100</text>
<text x="14.0" y="335" font-size="8.5" text-anchor="middle" fill="#231f20" stroke="#231f20" stroke-width="0.1" textLength="80.6" lengthAdjust="spacingAndGlyphs" transform="rotate(-90 14.0 335)">Combined proportion of</text>
<text x="25.2" y="334.5" font-size="8.5" text-anchor="middle" fill="#231f20" stroke="#231f20" stroke-width="0.1" textLength="79.7" lengthAdjust="spacingAndGlyphs" transform="rotate(-90 25.2 334.5)">clones with HLA loss (%)</text>
<text x="14.2" y="428.5" font-size="8.5" text-anchor="middle" fill="#231f20" stroke="#231f20" stroke-width="0.1" textLength="68.4" lengthAdjust="spacingAndGlyphs" transform="rotate(-90 14.2 428.5)">Breakdown of clones</text>
<text x="25.4" y="428" font-size="8.5" text-anchor="middle" fill="#231f20" stroke="#231f20" stroke-width="0.1" textLength="57" lengthAdjust="spacingAndGlyphs" transform="rotate(-90 25.4 428)">with HLA loss (%)</text>
<text x="6.6" y="272.5" font-size="11.0" text-anchor="start" fill="#000" font-weight="bold">C</text>
<text x="93.6" y="283.6" font-size="7.2" text-anchor="middle" fill="#231f20" stroke="#231f20" stroke-width="0.1" font-style="italic" textLength="22.7" lengthAdjust="spacingAndGlyphs">A*02:01</text>
<line x1="59" y1="285.6" x2="128.3" y2="285.6" stroke="#231f20" stroke-width="1.1"/>
<text x="131.5" y="276.0" font-size="7.2" text-anchor="middle" fill="#231f20" stroke="#231f20" stroke-width="0.1" font-style="italic" textLength="25" lengthAdjust="spacingAndGlyphs">A*02:05</text>
<line x1="131.2" y1="277.3" x2="131.2" y2="289.7" stroke="#9a9a9a" stroke-width="1.2"/>
<text x="143.8" y="283.6" font-size="7.2" text-anchor="middle" fill="#231f20" stroke="#231f20" stroke-width="0.1" font-style="italic" textLength="20.8" lengthAdjust="spacingAndGlyphs">A*02:06</text>
<line x1="133.8" y1="285.6" x2="145.2" y2="285.6" stroke="#231f20" stroke-width="1.1"/>
<text x="165" y="283.6" font-size="7.2" text-anchor="middle" fill="#231f20" stroke="#231f20" stroke-width="0.1" font-style="italic" textLength="20" lengthAdjust="spacingAndGlyphs">A*68:01</text>
<line x1="155" y1="285.6" x2="161.2" y2="285.6" stroke="#231f20" stroke-width="1.1"/>
<text x="185.1" y="306.1" font-size="7.2" text-anchor="middle" fill="#231f20" stroke="#231f20" stroke-width="0.1" font-style="italic" textLength="23" lengthAdjust="spacingAndGlyphs">B*07:02</text>
<line x1="171.9" y1="308.3" x2="198.3" y2="308.3" stroke="#231f20" stroke-width="1.1"/>
<text x="215.2" y="285.8" font-size="7.2" text-anchor="middle" fill="#231f20" stroke="#231f20" stroke-width="0.1" font-style="italic" textLength="22.5" lengthAdjust="spacingAndGlyphs">B*08:01</text>
<line x1="200.5" y1="288.1" x2="232.4" y2="288.1" stroke="#231f20" stroke-width="1.1"/>
<text x="291.2" y="283.3" font-size="7.2" text-anchor="middle" fill="#231f20" stroke="#231f20" stroke-width="0.1" font-style="italic" textLength="23" lengthAdjust="spacingAndGlyphs">B*14:02</text>
<line x1="242" y1="285.6" x2="341" y2="285.6" stroke="#231f20" stroke-width="1.1"/>
<text x="394.1" y="286.5" font-size="7.2" text-anchor="middle" fill="#231f20" stroke="#231f20" stroke-width="0.1" font-style="italic" textLength="23.2" lengthAdjust="spacingAndGlyphs">B*40:02</text>
<line x1="374.8" y1="288.9" x2="411.1" y2="288.9" stroke="#231f20" stroke-width="1.1"/>
<text x="368.8" y="275.8" font-size="7.2" text-anchor="middle" fill="#231f20" stroke="#231f20" stroke-width="0.1" font-style="italic" textLength="22.5" lengthAdjust="spacingAndGlyphs">B*40:01</text>
<line x1="369.4" y1="278.9" x2="369.4" y2="291.2" stroke="#231f20" stroke-width="0.8"/>
<line x1="366" y1="292.3" x2="373" y2="292.3" stroke="#231f20" stroke-width="1.1"/>
<text x="429.2" y="281.8" font-size="7.2" text-anchor="middle" fill="#231f20" stroke="#231f20" stroke-width="0.1" font-style="italic" textLength="22" lengthAdjust="spacingAndGlyphs">B*45:01</text>
<line x1="418.2" y1="288.5" x2="423.5" y2="284.3" stroke="#231f20" stroke-width="0.8"/>
<text x="445" y="347" font-size="6.8" text-anchor="middle" fill="#231f20" stroke="#231f20" stroke-width="0.1" textLength="39.7" lengthAdjust="spacingAndGlyphs">6p LOH alone</text>
<line x1="423.5" y1="357.4" x2="429.1" y2="349.9" stroke="#231f20" stroke-width="0.8"/>
<line x1="420.8" y1="357.9" x2="432" y2="357.9" stroke="#231f20" stroke-width="1.1"/>
<text x="55.5" y="356.7" font-size="7.2" text-anchor="middle" fill="#231f20" stroke="#231f20" stroke-width="0.1" font-style="italic" textLength="21.8" lengthAdjust="spacingAndGlyphs" transform="rotate(-90 55.5 356.7)">A*01:01</text>
<line x1="50.5" y1="369.4" x2="57.8" y2="369.4" stroke="#231f20" stroke-width="1.1"/>
<line x1="53.3" y1="367.9" x2="53.3" y2="369.4" stroke="#231f20" stroke-width="0.8"/>
<text x="146.0" y="358.0" font-size="7.2" text-anchor="middle" fill="#231f20" stroke="#231f20" stroke-width="0.1" font-style="italic" textLength="17.5" lengthAdjust="spacingAndGlyphs" transform="rotate(-90 146.0 358.0)">A*02:11</text>
<line x1="144.4" y1="367" x2="147.5" y2="376" stroke="#231f20" stroke-width="0.7"/>
<text x="153.2" y="358.5" font-size="7.2" text-anchor="middle" fill="#231f20" stroke="#231f20" stroke-width="0.1" font-style="italic" textLength="18.5" lengthAdjust="spacingAndGlyphs" transform="rotate(-90 153.2 358.5)">A*33:03</text>
<line x1="151.3" y1="369" x2="151.3" y2="375.8" stroke="#231f20" stroke-width="0.7"/>
<text x="167.3" y="327.5" font-size="7.2" text-anchor="middle" fill="#231f20" stroke="#231f20" stroke-width="0.1" font-style="italic" textLength="23" lengthAdjust="spacingAndGlyphs" transform="rotate(-90 167.3 327.5)">A*74:01</text>
<line x1="163.2" y1="341.6" x2="169.7" y2="341.6" stroke="#231f20" stroke-width="1.1"/>
<line x1="164.2" y1="339.5" x2="164.2" y2="341.6" stroke="#231f20" stroke-width="0.8"/>
<text x="232.3" y="342.2" font-size="7.2" text-anchor="middle" fill="#231f20" stroke="#231f20" stroke-width="0.1" font-style="italic" textLength="21.6" lengthAdjust="spacingAndGlyphs" transform="rotate(-90 232.3 342.2)">B*13:01</text>
<line x1="232.4" y1="358.5" x2="234.8" y2="363.4" stroke="#231f20" stroke-width="0.7"/>
<text x="239.3" y="343" font-size="7.2" text-anchor="middle" fill="#231f20" stroke="#231f20" stroke-width="0.1" font-style="italic" textLength="21.8" lengthAdjust="spacingAndGlyphs" transform="rotate(-90 239.3 343)">B*14:01</text>
<line x1="238.2" y1="354.6" x2="239.3" y2="372.4" stroke="#231f20" stroke-width="0.7"/>
<text x="329.4" y="330.2" font-size="7.2" text-anchor="middle" fill="#231f20" stroke="#231f20" stroke-width="0.1" font-style="italic" textLength="50.4" lengthAdjust="spacingAndGlyphs" transform="rotate(-90 329.4 330.2)">B*14:02+A*68:02</text>
<line x1="326" y1="358.5" x2="326" y2="372.4" stroke="#231f20" stroke-width="0.8"/>
<text x="349.5" y="345.2" font-size="7.2" text-anchor="middle" fill="#231f20" stroke="#231f20" stroke-width="0.1" font-style="italic" textLength="21.5" lengthAdjust="spacingAndGlyphs" transform="rotate(-90 349.5 345.2)">B*27:05</text>
<line x1="341.8" y1="358.6" x2="350" y2="358.6" stroke="#231f20" stroke-width="1.1"/>
<line x1="342.8" y1="356.6" x2="342.8" y2="358.6" stroke="#231f20" stroke-width="0.8"/>
<text x="357.0" y="342.6" font-size="7.2" text-anchor="middle" fill="#231f20" stroke="#231f20" stroke-width="0.1" font-style="italic" textLength="22.4" lengthAdjust="spacingAndGlyphs" transform="rotate(-90 357.0 342.6)">B*35:02</text>
<line x1="355.5" y1="354" x2="355.5" y2="376" stroke="#231f20" stroke-width="0.8"/>
<text x="364.7" y="340.2" font-size="7.2" text-anchor="middle" fill="#231f20" stroke="#231f20" stroke-width="0.1" font-style="italic" textLength="22.5" lengthAdjust="spacingAndGlyphs" transform="rotate(-90 364.7 340.2)">B*35:05</text>
<line x1="358" y1="354.2" x2="365.2" y2="354.2" stroke="#231f20" stroke-width="1.1"/>
<line x1="359" y1="352.2" x2="359" y2="354.2" stroke="#231f20" stroke-width="0.8"/>
<text x="412.0" y="325" font-size="7.2" text-anchor="middle" fill="#231f20" stroke="#231f20" stroke-width="0.1" font-style="italic" textLength="21.5" lengthAdjust="spacingAndGlyphs" transform="rotate(-90 412.0 325)">B*40:04</text>
<line x1="410.8" y1="338.4" x2="413.8" y2="346.3" stroke="#231f20" stroke-width="0.7"/>
<rect x="437.80" y="393.60" width="6.00" height="6.00" fill="#c8102e"/>
<text x="446.8" y="399.5" font-size="8.0" text-anchor="start" fill="#231f20" stroke="#231f20" stroke-width="0.1" textLength="32.2" lengthAdjust="spacingAndGlyphs">Nonsense</text>
<rect x="437.80" y="403.23" width="6.00" height="6.00" fill="#f7941d"/>
<text x="446.8" y="409.13" font-size="8.0" text-anchor="start" fill="#231f20" stroke="#231f20" stroke-width="0.1" textLength="64.9" lengthAdjust="spacingAndGlyphs">Frameshift insertion</text>
<rect x="437.80" y="412.86" width="6.00" height="6.00" fill="#5c2479"/>
<text x="446.8" y="418.76" font-size="8.0" text-anchor="start" fill="#231f20" stroke="#231f20" stroke-width="0.1" textLength="64.2" lengthAdjust="spacingAndGlyphs">Frameshift deletion</text>
<rect x="437.80" y="422.49" width="6.00" height="6.00" fill="#1a4f8b"/>
<text x="446.8" y="428.39" font-size="8.0" text-anchor="start" fill="#231f20" stroke="#231f20" stroke-width="0.1" textLength="29.9" lengthAdjust="spacingAndGlyphs">Missense</text>
<rect x="437.80" y="432.12" width="6.00" height="6.00" fill="#bcbec0"/>
<text x="446.8" y="438.02" font-size="8.0" text-anchor="start" fill="#231f20" stroke="#231f20" stroke-width="0.1" textLength="41.7" lengthAdjust="spacingAndGlyphs">Synonymous</text>
<rect x="437.80" y="441.75" width="6.00" height="6.00" fill="#3ab54a"/>
<text x="446.8" y="447.65" font-size="8.0" text-anchor="start" fill="#231f20" stroke="#231f20" stroke-width="0.1" textLength="25.3" lengthAdjust="spacingAndGlyphs">Intronic</text>
<rect x="437.80" y="451.38" width="6.00" height="6.00" fill="#29abe2"/>
<text x="446.8" y="457.28" font-size="8.0" text-anchor="start" fill="#231f20" stroke="#231f20" stroke-width="0.1" textLength="25.6" lengthAdjust="spacingAndGlyphs">6p LOH</text>
<text x="6.7" y="493.4" font-size="10.6" text-anchor="start" fill="#000" font-weight="bold">D</text>
<text x="6.7" y="540.0" font-size="8.0" text-anchor="start" fill="#000" font-style="italic" font-weight="bold" textLength="20.3" lengthAdjust="spacingAndGlyphs">HLA-A</text>
<text x="6.9" y="568.8" font-size="8.0" text-anchor="start" fill="#000" font-style="italic" font-weight="bold" textLength="19.6" lengthAdjust="spacingAndGlyphs">HLA-B</text>
<rect x="30.0" y="535.0" width="476.40" height="5.00" fill="#b8b8b8"/>
<rect x="30.9" y="536.3" width="474.60" height="2.40" fill="#fff"/>
<rect x="30.65" y="535.75" width="11.800000000000004" height="3.60" fill="#f6c4cd" stroke="#d59aa6" stroke-width="0.55"/>
<rect x="64.65" y="535.75" width="43.8" height="3.60" fill="#f6c4cd" stroke="#d59aa6" stroke-width="0.55"/>
<rect x="148.75" y="535.75" width="45.0" height="3.60" fill="#f6c4cd" stroke="#d59aa6" stroke-width="0.55"/>
<rect x="290.05" y="535.75" width="45.099999999999966" height="3.60" fill="#f6c4cd" stroke="#d59aa6" stroke-width="0.55"/>
<rect x="352.35" y="535.75" width="19.19999999999999" height="3.60" fill="#f6c4cd" stroke="#d59aa6" stroke-width="0.55"/>
<rect x="444.05" y="535.75" width="6.5" height="3.60" fill="#f6c4cd" stroke="#d59aa6" stroke-width="0.55"/>
<rect x="473.55" y="535.75" width="8.0" height="3.60" fill="#f6c4cd" stroke="#d59aa6" stroke-width="0.55"/>
<path d="M505.79999999999995,534.5 L511.0,537.5 L505.79999999999995,540.5 Z" fill="#ffffff" stroke="#b0b0b0" stroke-width="0.9"/>
<rect x="30.0" y="561.9" width="438.60" height="4.90" fill="#b8b8b8"/>
<rect x="30.9" y="563.1999999999999" width="436.80" height="2.30" fill="#fff"/>
<rect x="30.65" y="562.65" width="11.800000000000004" height="3.50" fill="#c9edcc" stroke="#9cc7a0" stroke-width="0.55"/>
<rect x="64.65" y="562.65" width="43.8" height="3.50" fill="#c9edcc" stroke="#9cc7a0" stroke-width="0.55"/>
<rect x="148.75" y="562.65" width="45.0" height="3.50" fill="#c9edcc" stroke="#9cc7a0" stroke-width="0.55"/>
<rect x="290.05" y="562.65" width="45.099999999999966" height="3.50" fill="#c9edcc" stroke="#9cc7a0" stroke-width="0.55"/>
<rect x="352.35" y="562.65" width="19.19999999999999" height="3.50" fill="#c9edcc" stroke="#9cc7a0" stroke-width="0.55"/>
<rect x="444.05" y="562.65" width="6.5" height="3.50" fill="#c9edcc" stroke="#9cc7a0" stroke-width="0.55"/>
<path d="M468.0,561.3499999999999 L473.20000000000005,564.3499999999999 L468.0,567.3499999999999 Z" fill="#c9edcc" stroke="#b0b0b0" stroke-width="0.9"/>
<line x1="31.4" y1="535.5" x2="31.4" y2="530.2" stroke="#e3798b" stroke-width="0.9"/>
<circle cx="31.40" cy="530.20" r="1.35" fill="#c8102e" stroke="#2a0a18" stroke-width="0.35"/>
<line x1="40.2" y1="535.5" x2="40.2" y2="530.2" stroke="#e3798b" stroke-width="0.9"/>
<circle cx="40.20" cy="530.20" r="1.35" fill="#c8102e" stroke="#2a0a18" stroke-width="0.35"/>
<circle cx="40.20" cy="528.37" r="1.35" fill="#c8102e" stroke="#2a0a18" stroke-width="0.35"/>
<line x1="42.8" y1="535.5" x2="42.8" y2="530.2" stroke="#7acd84" stroke-width="0.9"/>
<circle cx="42.80" cy="530.20" r="1.35" fill="#3ab54a" stroke="#2a0a18" stroke-width="0.35"/>
<line x1="61.2" y1="535.5" x2="61.2" y2="530.2" stroke="#7acd84" stroke-width="0.9"/>
<circle cx="61.20" cy="530.20" r="1.35" fill="#3ab54a" stroke="#2a0a18" stroke-width="0.35"/>
<circle cx="61.20" cy="528.37" r="1.35" fill="#3ab54a" stroke="#2a0a18" stroke-width="0.35"/>
<circle cx="61.20" cy="526.54" r="1.35" fill="#3ab54a" stroke="#2a0a18" stroke-width="0.35"/>
<line x1="69.1" y1="535.5" x2="69.1" y2="530.2" stroke="#f9b45e" stroke-width="0.9"/>
<circle cx="69.10" cy="530.20" r="1.35" fill="#f7941d" stroke="#2a0a18" stroke-width="0.35"/>
<line x1="70.9" y1="535.5" x2="70.9" y2="530.2" stroke="#c4c4c4" stroke-width="0.9"/>
<circle cx="70.90" cy="530.20" r="1.35" fill="#d8d8d8" stroke="#2a0a18" stroke-width="0.35"/>
<line x1="73.3" y1="535.5" x2="73.3" y2="530.2" stroke="#6f8fb8" stroke-width="0.9"/>
<circle cx="73.30" cy="530.20" r="1.35" fill="#1a4f8b" stroke="#2a0a18" stroke-width="0.35"/>
<line x1="74.9" y1="535.5" x2="74.9" y2="530.2" stroke="#9a79ae" stroke-width="0.9"/>
<circle cx="74.90" cy="530.20" r="1.35" fill="#5c2479" stroke="#2a0a18" stroke-width="0.35"/>
<circle cx="74.90" cy="528.37" r="1.35" fill="#1a4f8b" stroke="#2a0a18" stroke-width="0.35"/>
<circle cx="74.90" cy="526.54" r="1.35" fill="#1a4f8b" stroke="#2a0a18" stroke-width="0.35"/>
<line x1="79.2" y1="535.5" x2="79.2" y2="530.2" stroke="#9a79ae" stroke-width="0.9"/>
<circle cx="79.20" cy="530.20" r="1.35" fill="#5c2479" stroke="#2a0a18" stroke-width="0.35"/>
<line x1="82.1" y1="535.5" x2="82.1" y2="530.2" stroke="#9a79ae" stroke-width="0.9"/>
<circle cx="82.10" cy="530.20" r="1.35" fill="#5c2479" stroke="#2a0a18" stroke-width="0.35"/>
<line x1="94" y1="535.5" x2="94" y2="530.2" stroke="#9a79ae" stroke-width="0.9"/>
<circle cx="94.00" cy="530.20" r="1.35" fill="#5c2479" stroke="#2a0a18" stroke-width="0.35"/>
<line x1="96.6" y1="535.5" x2="96.6" y2="530.2" stroke="#f9b45e" stroke-width="0.9"/>
<circle cx="96.60" cy="530.20" r="1.35" fill="#f7941d" stroke="#2a0a18" stroke-width="0.35"/>
<line x1="98.7" y1="535.5" x2="98.7" y2="530.2" stroke="#9a79ae" stroke-width="0.9"/>
<circle cx="98.70" cy="530.20" r="1.35" fill="#5c2479" stroke="#2a0a18" stroke-width="0.35"/>
<line x1="101.4" y1="535.5" x2="101.4" y2="530.2" stroke="#9a79ae" stroke-width="0.9"/>
<circle cx="101.40" cy="530.20" r="1.35" fill="#5c2479" stroke="#2a0a18" stroke-width="0.35"/>
<line x1="105.1" y1="535.5" x2="105.1" y2="530.2" stroke="#9a79ae" stroke-width="0.9"/>
<circle cx="105.10" cy="530.20" r="1.35" fill="#5c2479" stroke="#2a0a18" stroke-width="0.35"/>
<circle cx="105.10" cy="528.37" r="1.35" fill="#5c2479" stroke="#2a0a18" stroke-width="0.35"/>
<circle cx="105.10" cy="526.54" r="1.35" fill="#1a4f8b" stroke="#2a0a18" stroke-width="0.35"/>
<line x1="108.6" y1="535.5" x2="108.6" y2="530.2" stroke="#7acd84" stroke-width="0.9"/>
<circle cx="108.60" cy="530.20" r="1.35" fill="#3ab54a" stroke="#2a0a18" stroke-width="0.35"/>
<line x1="145" y1="535.5" x2="145" y2="530.2" stroke="#7acd84" stroke-width="0.9"/>
<circle cx="145.00" cy="530.20" r="1.35" fill="#3ab54a" stroke="#2a0a18" stroke-width="0.35"/>
<line x1="149.1" y1="535.5" x2="149.1" y2="530.2" stroke="#f9b45e" stroke-width="0.9"/>
<circle cx="149.10" cy="530.20" r="1.35" fill="#f7941d" stroke="#2a0a18" stroke-width="0.35"/>
<circle cx="149.10" cy="528.37" r="1.35" fill="#f7941d" stroke="#2a0a18" stroke-width="0.35"/>
<circle cx="149.10" cy="526.54" r="1.35" fill="#1a4f8b" stroke="#2a0a18" stroke-width="0.35"/>
<circle cx="149.10" cy="524.71" r="1.35" fill="#1a4f8b" stroke="#2a0a18" stroke-width="0.35"/>
<line x1="150.6" y1="535.5" x2="150.6" y2="530.2" stroke="#e3798b" stroke-width="0.9"/>
<circle cx="150.60" cy="530.20" r="1.35" fill="#c8102e" stroke="#2a0a18" stroke-width="0.35"/>
<line x1="153.2" y1="535.5" x2="153.2" y2="530.2" stroke="#6f8fb8" stroke-width="0.9"/>
<circle cx="153.20" cy="530.20" r="1.35" fill="#1a4f8b" stroke="#2a0a18" stroke-width="0.35"/>
<circle cx="153.20" cy="528.37" r="1.35" fill="#1a4f8b" stroke="#2a0a18" stroke-width="0.35"/>
<circle cx="153.20" cy="526.54" r="1.35" fill="#1a4f8b" stroke="#2a0a18" stroke-width="0.35"/>
<circle cx="153.20" cy="524.71" r="1.35" fill="#1a4f8b" stroke="#2a0a18" stroke-width="0.35"/>
<circle cx="153.20" cy="522.88" r="1.35" fill="#1a4f8b" stroke="#2a0a18" stroke-width="0.35"/>
<circle cx="153.20" cy="521.05" r="1.35" fill="#1a4f8b" stroke="#2a0a18" stroke-width="0.35"/>
<circle cx="153.20" cy="519.22" r="1.35" fill="#c8102e" stroke="#2a0a18" stroke-width="0.35"/>
<line x1="156.5" y1="535.5" x2="156.5" y2="530.2" stroke="#e3798b" stroke-width="0.9"/>
<circle cx="156.50" cy="530.20" r="1.35" fill="#c8102e" stroke="#2a0a18" stroke-width="0.35"/>
<line x1="158.4" y1="535.5" x2="158.4" y2="530.2" stroke="#6f8fb8" stroke-width="0.9"/>
<circle cx="158.40" cy="530.20" r="1.35" fill="#1a4f8b" stroke="#2a0a18" stroke-width="0.35"/>
<line x1="161" y1="535.5" x2="161" y2="530.2" stroke="#e3798b" stroke-width="0.9"/>
<circle cx="161.00" cy="530.20" r="1.35" fill="#c8102e" stroke="#2a0a18" stroke-width="0.35"/>
<circle cx="161.00" cy="528.37" r="1.35" fill="#c8102e" stroke="#2a0a18" stroke-width="0.35"/>
<circle cx="161.00" cy="526.54" r="1.35" fill="#c8102e" stroke="#2a0a18" stroke-width="0.35"/>
<line x1="164.3" y1="535.5" x2="164.3" y2="530.2" stroke="#9a79ae" stroke-width="0.9"/>
<circle cx="164.30" cy="530.20" r="1.35" fill="#5c2479" stroke="#2a0a18" stroke-width="0.35"/>
<line x1="166.2" y1="535.5" x2="166.2" y2="530.2" stroke="#e3798b" stroke-width="0.9"/>
<circle cx="166.20" cy="530.20" r="1.35" fill="#c8102e" stroke="#2a0a18" stroke-width="0.35"/>
<line x1="169.2" y1="535.5" x2="169.2" y2="530.2" stroke="#e3798b" stroke-width="0.9"/>
<circle cx="169.20" cy="530.20" r="1.35" fill="#c8102e" stroke="#2a0a18" stroke-width="0.35"/>
<line x1="171.2" y1="535.5" x2="171.2" y2="530.2" stroke="#f9b45e" stroke-width="0.9"/>
<circle cx="171.20" cy="530.20" r="1.35" fill="#f7941d" stroke="#2a0a18" stroke-width="0.35"/>
<line x1="173.2" y1="535.5" x2="173.2" y2="530.2" stroke="#e3798b" stroke-width="0.9"/>
<circle cx="173.20" cy="530.20" r="1.35" fill="#c8102e" stroke="#2a0a18" stroke-width="0.35"/>
<line x1="175.5" y1="535.5" x2="175.5" y2="530.2" stroke="#f9b45e" stroke-width="0.9"/>
<circle cx="175.50" cy="530.20" r="1.35" fill="#f7941d" stroke="#2a0a18" stroke-width="0.35"/>
<line x1="179.6" y1="535.5" x2="179.6" y2="530.2" stroke="#e3798b" stroke-width="0.9"/>
<circle cx="179.60" cy="530.20" r="1.35" fill="#c8102e" stroke="#2a0a18" stroke-width="0.35"/>
<line x1="182.1" y1="535.5" x2="182.1" y2="530.2" stroke="#e3798b" stroke-width="0.9"/>
<circle cx="182.10" cy="530.20" r="1.35" fill="#c8102e" stroke="#2a0a18" stroke-width="0.35"/>
<line x1="188.2" y1="535.5" x2="188.2" y2="530.2" stroke="#e3798b" stroke-width="0.9"/>
<circle cx="188.20" cy="530.20" r="1.35" fill="#c8102e" stroke="#2a0a18" stroke-width="0.35"/>
<line x1="194.1" y1="535.5" x2="194.1" y2="530.2" stroke="#6f8fb8" stroke-width="0.9"/>
<circle cx="194.10" cy="530.20" r="1.35" fill="#1a4f8b" stroke="#2a0a18" stroke-width="0.35"/>
<circle cx="194.10" cy="528.37" r="1.35" fill="#3ab54a" stroke="#2a0a18" stroke-width="0.35"/>
<line x1="288.8" y1="535.5" x2="288.8" y2="530.2" stroke="#7acd84" stroke-width="0.9"/>
<circle cx="288.80" cy="530.20" r="1.35" fill="#3ab54a" stroke="#2a0a18" stroke-width="0.35"/>
<circle cx="288.80" cy="528.37" r="1.35" fill="#3ab54a" stroke="#2a0a18" stroke-width="0.35"/>
<circle cx="288.80" cy="526.54" r="1.35" fill="#3ab54a" stroke="#2a0a18" stroke-width="0.35"/>
<circle cx="288.80" cy="524.71" r="1.35" fill="#3ab54a" stroke="#2a0a18" stroke-width="0.35"/>
<line x1="291" y1="535.5" x2="291" y2="530.2" stroke="#6f8fb8" stroke-width="0.9"/>
<circle cx="291.00" cy="530.20" r="1.35" fill="#1a4f8b" stroke="#2a0a18" stroke-width="0.35"/>
<circle cx="291.00" cy="528.37" r="1.35" fill="#1a4f8b" stroke="#2a0a18" stroke-width="0.35"/>
<line x1="298.5" y1="535.5" x2="298.5" y2="530.2" stroke="#6f8fb8" stroke-width="0.9"/>
<circle cx="298.50" cy="530.20" r="1.35" fill="#1a4f8b" stroke="#2a0a18" stroke-width="0.35"/>
<line x1="302.8" y1="535.5" x2="302.8" y2="530.2" stroke="#6f8fb8" stroke-width="0.9"/>
<circle cx="302.80" cy="530.20" r="1.35" fill="#1a4f8b" stroke="#2a0a18" stroke-width="0.35"/>
<circle cx="302.80" cy="528.37" r="1.35" fill="#1a4f8b" stroke="#2a0a18" stroke-width="0.35"/>
<line x1="306" y1="535.5" x2="306" y2="530.2" stroke="#6f8fb8" stroke-width="0.9"/>
<circle cx="306.00" cy="530.20" r="1.35" fill="#1a4f8b" stroke="#2a0a18" stroke-width="0.35"/>
<circle cx="306.00" cy="528.37" r="1.35" fill="#1a4f8b" stroke="#2a0a18" stroke-width="0.35"/>
<circle cx="306.00" cy="526.54" r="1.35" fill="#1a4f8b" stroke="#2a0a18" stroke-width="0.35"/>
<line x1="307.3" y1="535.5" x2="307.3" y2="530.2" stroke="#9a79ae" stroke-width="0.9"/>
<circle cx="307.30" cy="530.20" r="1.35" fill="#5c2479" stroke="#2a0a18" stroke-width="0.35"/>
<line x1="310.4" y1="535.5" x2="310.4" y2="530.2" stroke="#6f8fb8" stroke-width="0.9"/>
<circle cx="310.40" cy="530.20" r="1.35" fill="#1a4f8b" stroke="#2a0a18" stroke-width="0.35"/>
<circle cx="310.40" cy="528.37" r="1.35" fill="#c8102e" stroke="#2a0a18" stroke-width="0.35"/>
<line x1="312" y1="535.5" x2="312" y2="530.2" stroke="#e3798b" stroke-width="0.9"/>
<circle cx="312.00" cy="530.20" r="1.35" fill="#c8102e" stroke="#2a0a18" stroke-width="0.35"/>
<line x1="315.2" y1="535.5" x2="315.2" y2="530.2" stroke="#6f8fb8" stroke-width="0.9"/>
<circle cx="315.20" cy="530.20" r="1.35" fill="#1a4f8b" stroke="#2a0a18" stroke-width="0.35"/>
<circle cx="315.20" cy="528.37" r="1.35" fill="#1a4f8b" stroke="#2a0a18" stroke-width="0.35"/>
<line x1="317.9" y1="535.5" x2="317.9" y2="530.2" stroke="#9a79ae" stroke-width="0.9"/>
<circle cx="317.90" cy="530.20" r="1.35" fill="#5c2479" stroke="#2a0a18" stroke-width="0.35"/>
<circle cx="317.90" cy="528.37" r="1.35" fill="#c8102e" stroke="#2a0a18" stroke-width="0.35"/>
<circle cx="317.90" cy="526.54" r="1.35" fill="#c8102e" stroke="#2a0a18" stroke-width="0.35"/>
<line x1="319.5" y1="535.5" x2="319.5" y2="530.2" stroke="#e3798b" stroke-width="0.9"/>
<circle cx="319.50" cy="530.20" r="1.35" fill="#c8102e" stroke="#2a0a18" stroke-width="0.35"/>
<circle cx="319.50" cy="528.37" r="1.35" fill="#c8102e" stroke="#2a0a18" stroke-width="0.35"/>
<circle cx="319.50" cy="526.54" r="1.35" fill="#c8102e" stroke="#2a0a18" stroke-width="0.35"/>
<line x1="324.9" y1="535.5" x2="324.9" y2="530.2" stroke="#f9b45e" stroke-width="0.9"/>
<circle cx="324.90" cy="530.20" r="1.35" fill="#f7941d" stroke="#2a0a18" stroke-width="0.35"/>
<circle cx="324.90" cy="528.37" r="1.35" fill="#c8102e" stroke="#2a0a18" stroke-width="0.35"/>
<line x1="326.5" y1="535.5" x2="326.5" y2="530.2" stroke="#6f8fb8" stroke-width="0.9"/>
<circle cx="326.50" cy="530.20" r="1.35" fill="#1a4f8b" stroke="#2a0a18" stroke-width="0.35"/>
<circle cx="326.50" cy="528.37" r="1.35" fill="#5c2479" stroke="#2a0a18" stroke-width="0.35"/>
<circle cx="326.50" cy="526.54" r="1.35" fill="#f7941d" stroke="#2a0a18" stroke-width="0.35"/>
<circle cx="326.50" cy="524.71" r="1.35" fill="#f7941d" stroke="#2a0a18" stroke-width="0.35"/>
<circle cx="326.50" cy="522.88" r="1.35" fill="#f7941d" stroke="#2a0a18" stroke-width="0.35"/>
<circle cx="326.50" cy="521.05" r="1.35" fill="#f7941d" stroke="#2a0a18" stroke-width="0.35"/>
<circle cx="326.50" cy="519.22" r="1.35" fill="#f7941d" stroke="#2a0a18" stroke-width="0.35"/>
<circle cx="326.50" cy="517.39" r="1.35" fill="#29abe2" stroke="#2a0a18" stroke-width="0.35"/>
<line x1="329.2" y1="535.5" x2="329.2" y2="530.2" stroke="#6f8fb8" stroke-width="0.9"/>
<circle cx="329.20" cy="530.20" r="1.35" fill="#1a4f8b" stroke="#2a0a18" stroke-width="0.35"/>
<circle cx="329.20" cy="528.37" r="1.35" fill="#c8102e" stroke="#2a0a18" stroke-width="0.35"/>
<line x1="335.7" y1="535.5" x2="335.7" y2="530.2" stroke="#7acd84" stroke-width="0.9"/>
<circle cx="335.70" cy="530.20" r="1.35" fill="#3ab54a" stroke="#2a0a18" stroke-width="0.35"/>
<circle cx="335.70" cy="528.37" r="1.35" fill="#3ab54a" stroke="#2a0a18" stroke-width="0.35"/>
<line x1="348.8" y1="535.5" x2="348.8" y2="530.2" stroke="#7acd84" stroke-width="0.9"/>
<circle cx="348.80" cy="530.20" r="1.35" fill="#3ab54a" stroke="#2a0a18" stroke-width="0.35"/>
<line x1="354" y1="535.5" x2="354" y2="530.2" stroke="#e3798b" stroke-width="0.9"/>
<circle cx="354.00" cy="530.20" r="1.35" fill="#c8102e" stroke="#2a0a18" stroke-width="0.35"/>
<circle cx="354.00" cy="528.37" r="1.35" fill="#5c2479" stroke="#2a0a18" stroke-width="0.35"/>
<line x1="357.9" y1="535.5" x2="357.9" y2="530.2" stroke="#9a79ae" stroke-width="0.9"/>
<circle cx="357.90" cy="530.20" r="1.35" fill="#5c2479" stroke="#2a0a18" stroke-width="0.35"/>
<line x1="361.9" y1="535.5" x2="361.9" y2="530.2" stroke="#9a79ae" stroke-width="0.9"/>
<circle cx="361.90" cy="530.20" r="1.35" fill="#5c2479" stroke="#2a0a18" stroke-width="0.35"/>
<line x1="369.4" y1="535.5" x2="369.4" y2="530.2" stroke="#6f8fb8" stroke-width="0.9"/>
<circle cx="369.40" cy="530.20" r="1.35" fill="#1a4f8b" stroke="#2a0a18" stroke-width="0.35"/>
<circle cx="369.40" cy="528.37" r="1.35" fill="#3ab54a" stroke="#2a0a18" stroke-width="0.35"/>
<line x1="371.8" y1="535.5" x2="371.8" y2="530.2" stroke="#7acd84" stroke-width="0.9"/>
<circle cx="371.80" cy="530.20" r="1.35" fill="#3ab54a" stroke="#2a0a18" stroke-width="0.35"/>
<line x1="509.4" y1="535.5" x2="509.4" y2="530.2" stroke="#7acd84" stroke-width="0.9"/>
<circle cx="509.40" cy="530.20" r="1.35" fill="#3ab54a" stroke="#2a0a18" stroke-width="0.35"/>
<line x1="33.3" y1="535.5" x2="33.3" y2="529.8" stroke="#9a79ae" stroke-width="0.9"/>
<circle cx="33.30" cy="529.80" r="1.35" fill="#5c2479" stroke="#2a0a18" stroke-width="0.35"/>
<circle cx="33.30" cy="527.97" r="1.35" fill="#5c2479" stroke="#2a0a18" stroke-width="0.35"/>
<circle cx="33.30" cy="526.14" r="1.35" fill="#5c2479" stroke="#2a0a18" stroke-width="0.35"/>
<circle cx="33.30" cy="524.31" r="1.35" fill="#5c2479" stroke="#2a0a18" stroke-width="0.35"/>
<circle cx="33.30" cy="522.48" r="1.35" fill="#5c2479" stroke="#2a0a18" stroke-width="0.35"/>
<circle cx="33.30" cy="520.65" r="1.35" fill="#f7941d" stroke="#2a0a18" stroke-width="0.35"/>
<circle cx="33.30" cy="518.82" r="1.35" fill="#f7941d" stroke="#2a0a18" stroke-width="0.35"/>
<circle cx="33.30" cy="516.99" r="1.35" fill="#c8102e" stroke="#2a0a18" stroke-width="0.35"/>
<circle cx="33.30" cy="515.16" r="1.35" fill="#c8102e" stroke="#2a0a18" stroke-width="0.35"/>
<circle cx="33.30" cy="513.33" r="1.35" fill="#c8102e" stroke="#2a0a18" stroke-width="0.35"/>
<circle cx="33.30" cy="511.50" r="1.35" fill="#c8102e" stroke="#2a0a18" stroke-width="0.35"/>
<circle cx="33.30" cy="509.67" r="1.35" fill="#c8102e" stroke="#2a0a18" stroke-width="0.35"/>
<circle cx="33.30" cy="507.84" r="1.35" fill="#c8102e" stroke="#2a0a18" stroke-width="0.35"/>
<circle cx="33.30" cy="506.01" r="1.35" fill="#c8102e" stroke="#2a0a18" stroke-width="0.35"/>
<circle cx="33.30" cy="504.18" r="1.35" fill="#c8102e" stroke="#2a0a18" stroke-width="0.35"/>
<circle cx="33.30" cy="502.35" r="1.35" fill="#c8102e" stroke="#2a0a18" stroke-width="0.35"/>
<circle cx="33.30" cy="500.52" r="1.35" fill="#c8102e" stroke="#2a0a18" stroke-width="0.35"/>
<circle cx="33.30" cy="498.69" r="1.35" fill="#c8102e" stroke="#2a0a18" stroke-width="0.35"/>
<circle cx="33.30" cy="496.86" r="1.35" fill="#c8102e" stroke="#2a0a18" stroke-width="0.35"/>
<circle cx="33.30" cy="495.03" r="1.35" fill="#c8102e" stroke="#2a0a18" stroke-width="0.35"/>
<line x1="30.7" y1="566.5" x2="30.7" y2="572.1" stroke="#e3798b" stroke-width="0.8"/>
<circle cx="30.70" cy="572.10" r="1.35" fill="#c8102e" stroke="#2a0a18" stroke-width="0.35"/>
<circle cx="30.70" cy="573.93" r="1.35" fill="#c8102e" stroke="#2a0a18" stroke-width="0.35"/>
<circle cx="30.70" cy="575.76" r="1.35" fill="#c8102e" stroke="#2a0a18" stroke-width="0.35"/>
<circle cx="30.70" cy="577.59" r="1.35" fill="#c8102e" stroke="#2a0a18" stroke-width="0.35"/>
<circle cx="30.70" cy="579.42" r="1.35" fill="#c8102e" stroke="#2a0a18" stroke-width="0.35"/>
<circle cx="30.70" cy="581.25" r="1.35" fill="#c8102e" stroke="#2a0a18" stroke-width="0.35"/>
<circle cx="30.70" cy="583.08" r="1.35" fill="#c8102e" stroke="#2a0a18" stroke-width="0.35"/>
<circle cx="30.70" cy="584.91" r="1.35" fill="#c8102e" stroke="#2a0a18" stroke-width="0.35"/>
<circle cx="30.70" cy="586.74" r="1.35" fill="#c8102e" stroke="#2a0a18" stroke-width="0.35"/>
<circle cx="30.70" cy="588.57" r="1.35" fill="#c8102e" stroke="#2a0a18" stroke-width="0.35"/>
<circle cx="30.70" cy="590.40" r="1.35" fill="#c8102e" stroke="#2a0a18" stroke-width="0.35"/>
<circle cx="30.70" cy="592.23" r="1.35" fill="#c8102e" stroke="#2a0a18" stroke-width="0.35"/>
<circle cx="30.70" cy="594.06" r="1.35" fill="#c8102e" stroke="#2a0a18" stroke-width="0.35"/>
<circle cx="30.70" cy="595.89" r="1.35" fill="#c8102e" stroke="#2a0a18" stroke-width="0.35"/>
<circle cx="30.70" cy="597.72" r="1.35" fill="#c8102e" stroke="#2a0a18" stroke-width="0.35"/>
<line x1="36.8" y1="566.5" x2="36.8" y2="572.1" stroke="#6f8fb8" stroke-width="0.8"/>
<circle cx="36.80" cy="572.10" r="1.35" fill="#1a4f8b" stroke="#2a0a18" stroke-width="0.35"/>
<circle cx="36.80" cy="573.93" r="1.35" fill="#c8102e" stroke="#2a0a18" stroke-width="0.35"/>
<line x1="38.3" y1="566.5" x2="38.3" y2="572.1" stroke="#f9b45e" stroke-width="0.8"/>
<circle cx="38.30" cy="572.10" r="1.35" fill="#f7941d" stroke="#2a0a18" stroke-width="0.35"/>
<line x1="42.1" y1="566.5" x2="42.1" y2="572.1" stroke="#e3798b" stroke-width="0.8"/>
<circle cx="42.10" cy="572.10" r="1.35" fill="#c8102e" stroke="#2a0a18" stroke-width="0.35"/>
<circle cx="42.10" cy="573.93" r="1.35" fill="#3ab54a" stroke="#2a0a18" stroke-width="0.35"/>
<line x1="62.5" y1="566.5" x2="62.5" y2="572.1" stroke="#7acd84" stroke-width="0.8"/>
<circle cx="62.50" cy="572.10" r="1.35" fill="#3ab54a" stroke="#2a0a18" stroke-width="0.35"/>
<circle cx="62.50" cy="573.93" r="1.35" fill="#3ab54a" stroke="#2a0a18" stroke-width="0.35"/>
<line x1="63.6" y1="566.5" x2="63.6" y2="572.1" stroke="#7acd84" stroke-width="0.8"/>
<circle cx="63.60" cy="572.10" r="1.35" fill="#3ab54a" stroke="#2a0a18" stroke-width="0.35"/>
<line x1="66.2" y1="566.5" x2="66.2" y2="572.1" stroke="#e3798b" stroke-width="0.8"/>
<circle cx="66.20" cy="572.10" r="1.35" fill="#c8102e" stroke="#2a0a18" stroke-width="0.35"/>
<line x1="69.5" y1="566.5" x2="69.5" y2="572.1" stroke="#6f8fb8" stroke-width="0.8"/>
<circle cx="69.50" cy="572.10" r="1.35" fill="#1a4f8b" stroke="#2a0a18" stroke-width="0.35"/>
<line x1="72.1" y1="566.5" x2="72.1" y2="572.1" stroke="#f9b45e" stroke-width="0.8"/>
<circle cx="72.10" cy="572.10" r="1.35" fill="#f7941d" stroke="#2a0a18" stroke-width="0.35"/>
<line x1="74.8" y1="566.5" x2="74.8" y2="572.1" stroke="#6f8fb8" stroke-width="0.8"/>
<circle cx="74.80" cy="572.10" r="1.35" fill="#1a4f8b" stroke="#2a0a18" stroke-width="0.35"/>
<circle cx="74.80" cy="573.93" r="1.35" fill="#c8102e" stroke="#2a0a18" stroke-width="0.35"/>
<line x1="75.9" y1="566.5" x2="75.9" y2="572.1" stroke="#e3798b" stroke-width="0.8"/>
<circle cx="75.90" cy="572.10" r="1.35" fill="#c8102e" stroke="#2a0a18" stroke-width="0.35"/>
<circle cx="75.90" cy="573.93" r="1.35" fill="#c8102e" stroke="#2a0a18" stroke-width="0.35"/>
<line x1="78" y1="566.5" x2="78" y2="572.1" stroke="#6f8fb8" stroke-width="0.8"/>
<circle cx="78.00" cy="572.10" r="1.35" fill="#1a4f8b" stroke="#2a0a18" stroke-width="0.35"/>
<circle cx="78.00" cy="573.93" r="1.35" fill="#c8102e" stroke="#2a0a18" stroke-width="0.35"/>
<line x1="80.8" y1="566.5" x2="80.8" y2="572.1" stroke="#6f8fb8" stroke-width="0.8"/>
<circle cx="80.80" cy="572.10" r="1.35" fill="#1a4f8b" stroke="#2a0a18" stroke-width="0.35"/>
<line x1="86.1" y1="566.5" x2="86.1" y2="572.1" stroke="#6f8fb8" stroke-width="0.8"/>
<circle cx="86.10" cy="572.10" r="1.35" fill="#1a4f8b" stroke="#2a0a18" stroke-width="0.35"/>
<line x1="88.1" y1="566.5" x2="88.1" y2="572.1" stroke="#e3798b" stroke-width="0.8"/>
<circle cx="88.10" cy="572.10" r="1.35" fill="#c8102e" stroke="#2a0a18" stroke-width="0.35"/>
<circle cx="88.10" cy="573.93" r="1.35" fill="#c8102e" stroke="#2a0a18" stroke-width="0.35"/>
<line x1="89.9" y1="566.5" x2="89.9" y2="572.1" stroke="#e3798b" stroke-width="0.8"/>
<circle cx="89.90" cy="572.10" r="1.35" fill="#c8102e" stroke="#2a0a18" stroke-width="0.35"/>
<line x1="92.1" y1="566.5" x2="92.1" y2="572.1" stroke="#e3798b" stroke-width="0.8"/>
<circle cx="92.10" cy="572.10" r="1.35" fill="#c8102e" stroke="#2a0a18" stroke-width="0.35"/>
<circle cx="92.10" cy="573.93" r="1.35" fill="#1a4f8b" stroke="#2a0a18" stroke-width="0.35"/>
<line x1="93.1" y1="566.5" x2="93.1" y2="572.1" stroke="#e3798b" stroke-width="0.8"/>
<circle cx="93.10" cy="572.10" r="1.35" fill="#c8102e" stroke="#2a0a18" stroke-width="0.35"/>
<line x1="95.6" y1="566.5" x2="95.6" y2="572.1" stroke="#e3798b" stroke-width="0.8"/>
<circle cx="95.60" cy="572.10" r="1.35" fill="#c8102e" stroke="#2a0a18" stroke-width="0.35"/>
<circle cx="95.60" cy="573.93" r="1.35" fill="#f7941d" stroke="#2a0a18" stroke-width="0.35"/>
<circle cx="95.60" cy="575.76" r="1.35" fill="#f7941d" stroke="#2a0a18" stroke-width="0.35"/>
<circle cx="95.60" cy="577.59" r="1.35" fill="#c8102e" stroke="#2a0a18" stroke-width="0.35"/>
<line x1="96.9" y1="566.5" x2="96.9" y2="572.1" stroke="#e3798b" stroke-width="0.8"/>
<circle cx="96.90" cy="572.10" r="1.35" fill="#c8102e" stroke="#2a0a18" stroke-width="0.35"/>
<line x1="99.6" y1="566.5" x2="99.6" y2="572.1" stroke="#f9b45e" stroke-width="0.8"/>
<circle cx="99.60" cy="572.10" r="1.35" fill="#f7941d" stroke="#2a0a18" stroke-width="0.35"/>
<circle cx="99.60" cy="573.93" r="1.35" fill="#c8102e" stroke="#2a0a18" stroke-width="0.35"/>
<line x1="102.3" y1="566.5" x2="102.3" y2="572.1" stroke="#6f8fb8" stroke-width="0.8"/>
<circle cx="102.30" cy="572.10" r="1.35" fill="#1a4f8b" stroke="#2a0a18" stroke-width="0.35"/>
<circle cx="102.30" cy="573.93" r="1.35" fill="#1a4f8b" stroke="#2a0a18" stroke-width="0.35"/>
<circle cx="102.30" cy="575.76" r="1.35" fill="#1a4f8b" stroke="#2a0a18" stroke-width="0.35"/>
<circle cx="102.30" cy="577.59" r="1.35" fill="#1a4f8b" stroke="#2a0a18" stroke-width="0.35"/>
<circle cx="102.30" cy="579.42" r="1.35" fill="#1a4f8b" stroke="#2a0a18" stroke-width="0.35"/>
<circle cx="102.30" cy="581.25" r="1.35" fill="#1a4f8b" stroke="#2a0a18" stroke-width="0.35"/>
<line x1="105" y1="566.5" x2="105" y2="572.1" stroke="#6f8fb8" stroke-width="0.8"/>
<circle cx="105.00" cy="572.10" r="1.35" fill="#1a4f8b" stroke="#2a0a18" stroke-width="0.35"/>
<line x1="108.7" y1="566.5" x2="108.7" y2="572.1" stroke="#7acd84" stroke-width="0.8"/>
<circle cx="108.70" cy="572.10" r="1.35" fill="#3ab54a" stroke="#2a0a18" stroke-width="0.35"/>
<line x1="145" y1="566.5" x2="145" y2="572.1" stroke="#7acd84" stroke-width="0.8"/>
<circle cx="145.00" cy="572.10" r="1.35" fill="#3ab54a" stroke="#2a0a18" stroke-width="0.35"/>
<circle cx="145.00" cy="573.93" r="1.35" fill="#3ab54a" stroke="#2a0a18" stroke-width="0.35"/>
<circle cx="145.00" cy="575.76" r="1.35" fill="#3ab54a" stroke="#2a0a18" stroke-width="0.35"/>
<circle cx="145.00" cy="577.59" r="1.35" fill="#3ab54a" stroke="#2a0a18" stroke-width="0.35"/>
<line x1="148.7" y1="566.5" x2="148.7" y2="572.1" stroke="#7acd84" stroke-width="0.8"/>
<circle cx="148.70" cy="572.10" r="1.35" fill="#3ab54a" stroke="#2a0a18" stroke-width="0.35"/>
<line x1="150.7" y1="566.5" x2="150.7" y2="572.1" stroke="#f9b45e" stroke-width="0.8"/>
<circle cx="150.70" cy="572.10" r="1.35" fill="#f7941d" stroke="#2a0a18" stroke-width="0.35"/>
<line x1="151.4" y1="566.5" x2="151.4" y2="572.1" stroke="#f9b45e" stroke-width="0.8"/>
<circle cx="151.40" cy="572.10" r="1.35" fill="#f7941d" stroke="#2a0a18" stroke-width="0.35"/>
<circle cx="151.40" cy="573.93" r="1.35" fill="#f7941d" stroke="#2a0a18" stroke-width="0.35"/>
<circle cx="151.40" cy="575.76" r="1.35" fill="#c8102e" stroke="#2a0a18" stroke-width="0.35"/>
<circle cx="151.40" cy="577.59" r="1.35" fill="#c8102e" stroke="#2a0a18" stroke-width="0.35"/>
<line x1="153.2" y1="566.5" x2="153.2" y2="572.1" stroke="#e3798b" stroke-width="0.8"/>
<circle cx="153.20" cy="572.10" r="1.35" fill="#c8102e" stroke="#2a0a18" stroke-width="0.35"/>
<line x1="154.3" y1="566.5" x2="154.3" y2="572.1" stroke="#6f8fb8" stroke-width="0.8"/>
<circle cx="154.30" cy="572.10" r="1.35" fill="#1a4f8b" stroke="#2a0a18" stroke-width="0.35"/>
<line x1="158.4" y1="566.5" x2="158.4" y2="572.1" stroke="#6f8fb8" stroke-width="0.8"/>
<circle cx="158.40" cy="572.10" r="1.35" fill="#1a4f8b" stroke="#2a0a18" stroke-width="0.35"/>
<circle cx="158.40" cy="573.93" r="1.35" fill="#1a4f8b" stroke="#2a0a18" stroke-width="0.35"/>
<line x1="160.6" y1="566.5" x2="160.6" y2="572.1" stroke="#e3798b" stroke-width="0.8"/>
<circle cx="160.60" cy="572.10" r="1.35" fill="#c8102e" stroke="#2a0a18" stroke-width="0.35"/>
<circle cx="160.60" cy="573.93" r="1.35" fill="#c8102e" stroke="#2a0a18" stroke-width="0.35"/>
<line x1="164.7" y1="566.5" x2="164.7" y2="572.1" stroke="#f9b45e" stroke-width="0.8"/>
<circle cx="164.70" cy="572.10" r="1.35" fill="#f7941d" stroke="#2a0a18" stroke-width="0.35"/>
<line x1="166.5" y1="566.5" x2="166.5" y2="572.1" stroke="#6f8fb8" stroke-width="0.8"/>
<circle cx="166.50" cy="572.10" r="1.35" fill="#1a4f8b" stroke="#2a0a18" stroke-width="0.35"/>
<circle cx="166.50" cy="573.93" r="1.35" fill="#1a4f8b" stroke="#2a0a18" stroke-width="0.35"/>
<circle cx="166.50" cy="575.76" r="1.35" fill="#1a4f8b" stroke="#2a0a18" stroke-width="0.35"/>
<circle cx="166.50" cy="577.59" r="1.35" fill="#1a4f8b" stroke="#2a0a18" stroke-width="0.35"/>
<circle cx="166.50" cy="579.42" r="1.35" fill="#c8102e" stroke="#2a0a18" stroke-width="0.35"/>
<circle cx="166.50" cy="581.25" r="1.35" fill="#c8102e" stroke="#2a0a18" stroke-width="0.35"/>
<line x1="168.4" y1="566.5" x2="168.4" y2="572.1" stroke="#f9b45e" stroke-width="0.8"/>
<circle cx="168.40" cy="572.10" r="1.35" fill="#f7941d" stroke="#2a0a18" stroke-width="0.35"/>
<circle cx="168.40" cy="573.93" r="1.35" fill="#f7941d" stroke="#2a0a18" stroke-width="0.35"/>
<line x1="170.1" y1="566.5" x2="170.1" y2="572.1" stroke="#e3798b" stroke-width="0.8"/>
<circle cx="170.10" cy="572.10" r="1.35" fill="#c8102e" stroke="#2a0a18" stroke-width="0.35"/>
<line x1="172.3" y1="566.5" x2="172.3" y2="572.1" stroke="#f9b45e" stroke-width="0.8"/>
<circle cx="172.30" cy="572.10" r="1.35" fill="#f7941d" stroke="#2a0a18" stroke-width="0.35"/>
<line x1="173.4" y1="566.5" x2="173.4" y2="572.1" stroke="#e3798b" stroke-width="0.8"/>
<circle cx="173.40" cy="572.10" r="1.35" fill="#c8102e" stroke="#2a0a18" stroke-width="0.35"/>
<circle cx="173.40" cy="573.93" r="1.35" fill="#c8102e" stroke="#2a0a18" stroke-width="0.35"/>
<line x1="175.5" y1="566.5" x2="175.5" y2="572.1" stroke="#9a79ae" stroke-width="0.8"/>
<circle cx="175.50" cy="572.10" r="1.35" fill="#5c2479" stroke="#2a0a18" stroke-width="0.35"/>
<circle cx="175.50" cy="573.93" r="1.35" fill="#c8102e" stroke="#2a0a18" stroke-width="0.35"/>
<circle cx="175.50" cy="575.76" r="1.35" fill="#c8102e" stroke="#2a0a18" stroke-width="0.35"/>
<line x1="179" y1="566.5" x2="179" y2="572.1" stroke="#e3798b" stroke-width="0.8"/>
<circle cx="179.00" cy="572.10" r="1.35" fill="#c8102e" stroke="#2a0a18" stroke-width="0.35"/>
<line x1="183.5" y1="566.5" x2="183.5" y2="572.1" stroke="#9a79ae" stroke-width="0.8"/>
<circle cx="183.50" cy="572.10" r="1.35" fill="#5c2479" stroke="#2a0a18" stroke-width="0.35"/>
<circle cx="183.50" cy="573.93" r="1.35" fill="#c8102e" stroke="#2a0a18" stroke-width="0.35"/>
<line x1="185.9" y1="566.5" x2="185.9" y2="572.1" stroke="#6f8fb8" stroke-width="0.8"/>
<circle cx="185.90" cy="572.10" r="1.35" fill="#1a4f8b" stroke="#2a0a18" stroke-width="0.35"/>
<line x1="188.2" y1="566.5" x2="188.2" y2="572.1" stroke="#6f8fb8" stroke-width="0.8"/>
<circle cx="188.20" cy="572.10" r="1.35" fill="#1a4f8b" stroke="#2a0a18" stroke-width="0.35"/>
<circle cx="188.20" cy="573.93" r="1.35" fill="#f7941d" stroke="#2a0a18" stroke-width="0.35"/>
<circle cx="188.20" cy="575.76" r="1.35" fill="#c8102e" stroke="#2a0a18" stroke-width="0.35"/>
<circle cx="188.20" cy="577.59" r="1.35" fill="#d8d8d8" stroke="#2a0a18" stroke-width="0.35"/>
<line x1="192.4" y1="566.5" x2="192.4" y2="572.1" stroke="#6f8fb8" stroke-width="0.8"/>
<circle cx="192.40" cy="572.10" r="1.35" fill="#1a4f8b" stroke="#2a0a18" stroke-width="0.35"/>
<circle cx="192.40" cy="573.93" r="1.35" fill="#1a4f8b" stroke="#2a0a18" stroke-width="0.35"/>
<circle cx="192.40" cy="575.76" r="1.35" fill="#1a4f8b" stroke="#2a0a18" stroke-width="0.35"/>
<line x1="194.6" y1="566.5" x2="194.6" y2="572.1" stroke="#f9b45e" stroke-width="0.8"/>
<circle cx="194.60" cy="572.10" r="1.35" fill="#f7941d" stroke="#2a0a18" stroke-width="0.35"/>
<line x1="214.6" y1="566.5" x2="214.6" y2="572.1" stroke="#7acd84" stroke-width="0.8"/>
<circle cx="214.60" cy="572.10" r="1.35" fill="#3ab54a" stroke="#2a0a18" stroke-width="0.35"/>
<circle cx="214.60" cy="573.93" r="1.35" fill="#3ab54a" stroke="#2a0a18" stroke-width="0.35"/>
<circle cx="214.60" cy="575.76" r="1.35" fill="#3ab54a" stroke="#2a0a18" stroke-width="0.35"/>
<circle cx="214.60" cy="577.59" r="1.35" fill="#3ab54a" stroke="#2a0a18" stroke-width="0.35"/>
<line x1="216.2" y1="566.5" x2="216.2" y2="572.1" stroke="#7acd84" stroke-width="0.8"/>
<circle cx="216.20" cy="572.10" r="1.35" fill="#3ab54a" stroke="#2a0a18" stroke-width="0.35"/>
<circle cx="216.20" cy="573.93" r="1.35" fill="#3ab54a" stroke="#2a0a18" stroke-width="0.35"/>
<circle cx="216.20" cy="575.76" r="1.35" fill="#3ab54a" stroke="#2a0a18" stroke-width="0.35"/>
<line x1="288.5" y1="566.5" x2="288.5" y2="572.1" stroke="#7acd84" stroke-width="0.8"/>
<circle cx="288.50" cy="572.10" r="1.35" fill="#3ab54a" stroke="#2a0a18" stroke-width="0.35"/>
<line x1="291.8" y1="566.5" x2="291.8" y2="572.1" stroke="#9a79ae" stroke-width="0.8"/>
<circle cx="291.80" cy="572.10" r="1.35" fill="#5c2479" stroke="#2a0a18" stroke-width="0.35"/>
<line x1="298" y1="566.5" x2="298" y2="572.1" stroke="#6f8fb8" stroke-width="0.8"/>
<circle cx="298.00" cy="572.10" r="1.35" fill="#1a4f8b" stroke="#2a0a18" stroke-width="0.35"/>
<circle cx="298.00" cy="573.93" r="1.35" fill="#1a4f8b" stroke="#2a0a18" stroke-width="0.35"/>
<circle cx="298.00" cy="575.76" r="1.35" fill="#1a4f8b" stroke="#2a0a18" stroke-width="0.35"/>
<circle cx="298.00" cy="577.59" r="1.35" fill="#1a4f8b" stroke="#2a0a18" stroke-width="0.35"/>
<line x1="300.1" y1="566.5" x2="300.1" y2="572.1" stroke="#6f8fb8" stroke-width="0.8"/>
<circle cx="300.10" cy="572.10" r="1.35" fill="#1a4f8b" stroke="#2a0a18" stroke-width="0.35"/>
<circle cx="300.10" cy="573.93" r="1.35" fill="#1a4f8b" stroke="#2a0a18" stroke-width="0.35"/>
<circle cx="300.10" cy="575.76" r="1.35" fill="#1a4f8b" stroke="#2a0a18" stroke-width="0.35"/>
<circle cx="300.10" cy="577.59" r="1.35" fill="#1a4f8b" stroke="#2a0a18" stroke-width="0.35"/>
<circle cx="300.10" cy="579.42" r="1.35" fill="#1a4f8b" stroke="#2a0a18" stroke-width="0.35"/>
<line x1="300.7" y1="566.5" x2="300.7" y2="572.1" stroke="#6f8fb8" stroke-width="0.8"/>
<circle cx="300.70" cy="572.10" r="1.35" fill="#1a4f8b" stroke="#2a0a18" stroke-width="0.35"/>
<circle cx="300.70" cy="573.93" r="1.35" fill="#1a4f8b" stroke="#2a0a18" stroke-width="0.35"/>
<line x1="302.8" y1="566.5" x2="302.8" y2="572.1" stroke="#6f8fb8" stroke-width="0.8"/>
<circle cx="302.80" cy="572.10" r="1.35" fill="#1a4f8b" stroke="#2a0a18" stroke-width="0.35"/>
<circle cx="302.80" cy="573.93" r="1.35" fill="#f7941d" stroke="#2a0a18" stroke-width="0.35"/>
<line x1="305" y1="566.5" x2="305" y2="572.1" stroke="#6f8fb8" stroke-width="0.8"/>
<circle cx="305.00" cy="572.10" r="1.35" fill="#1a4f8b" stroke="#2a0a18" stroke-width="0.35"/>
<circle cx="305.00" cy="573.93" r="1.35" fill="#1a4f8b" stroke="#2a0a18" stroke-width="0.35"/>
<line x1="306.6" y1="566.5" x2="306.6" y2="572.1" stroke="#6f8fb8" stroke-width="0.8"/>
<circle cx="306.60" cy="572.10" r="1.35" fill="#1a4f8b" stroke="#2a0a18" stroke-width="0.35"/>
<circle cx="306.60" cy="573.93" r="1.35" fill="#1a4f8b" stroke="#2a0a18" stroke-width="0.35"/>
<line x1="309.8" y1="566.5" x2="309.8" y2="572.1" stroke="#6f8fb8" stroke-width="0.8"/>
<circle cx="309.80" cy="572.10" r="1.35" fill="#1a4f8b" stroke="#2a0a18" stroke-width="0.35"/>
<circle cx="309.80" cy="573.93" r="1.35" fill="#1a4f8b" stroke="#2a0a18" stroke-width="0.35"/>
<circle cx="309.80" cy="575.76" r="1.35" fill="#1a4f8b" stroke="#2a0a18" stroke-width="0.35"/>
<circle cx="309.80" cy="577.59" r="1.35" fill="#1a4f8b" stroke="#2a0a18" stroke-width="0.35"/>
<line x1="312.2" y1="566.5" x2="312.2" y2="572.1" stroke="#f9b45e" stroke-width="0.8"/>
<circle cx="312.20" cy="572.10" r="1.35" fill="#f7941d" stroke="#2a0a18" stroke-width="0.35"/>
<line x1="314.7" y1="566.5" x2="314.7" y2="572.1" stroke="#6f8fb8" stroke-width="0.8"/>
<circle cx="314.70" cy="572.10" r="1.35" fill="#1a4f8b" stroke="#2a0a18" stroke-width="0.35"/>
<circle cx="314.70" cy="573.93" r="1.35" fill="#1a4f8b" stroke="#2a0a18" stroke-width="0.35"/>
<circle cx="314.70" cy="575.76" r="1.35" fill="#1a4f8b" stroke="#2a0a18" stroke-width="0.35"/>
<line x1="317.4" y1="566.5" x2="317.4" y2="572.1" stroke="#6f8fb8" stroke-width="0.8"/>
<circle cx="317.40" cy="572.10" r="1.35" fill="#1a4f8b" stroke="#2a0a18" stroke-width="0.35"/>
<circle cx="317.40" cy="573.93" r="1.35" fill="#1a4f8b" stroke="#2a0a18" stroke-width="0.35"/>
<line x1="320" y1="566.5" x2="320" y2="572.1" stroke="#6f8fb8" stroke-width="0.8"/>
<circle cx="320.00" cy="572.10" r="1.35" fill="#1a4f8b" stroke="#2a0a18" stroke-width="0.35"/>
<circle cx="320.00" cy="573.93" r="1.35" fill="#1a4f8b" stroke="#2a0a18" stroke-width="0.35"/>
<line x1="325.4" y1="566.5" x2="325.4" y2="572.1" stroke="#e3798b" stroke-width="0.8"/>
<circle cx="325.40" cy="572.10" r="1.35" fill="#c8102e" stroke="#2a0a18" stroke-width="0.35"/>
<circle cx="325.40" cy="573.93" r="1.35" fill="#c8102e" stroke="#2a0a18" stroke-width="0.35"/>
<circle cx="325.40" cy="575.76" r="1.35" fill="#c8102e" stroke="#2a0a18" stroke-width="0.35"/>
<circle cx="325.40" cy="577.59" r="1.35" fill="#c8102e" stroke="#2a0a18" stroke-width="0.35"/>
<circle cx="325.40" cy="579.42" r="1.35" fill="#1a4f8b" stroke="#2a0a18" stroke-width="0.35"/>
<line x1="327" y1="566.5" x2="327" y2="572.1" stroke="#f9b45e" stroke-width="0.8"/>
<circle cx="327.00" cy="572.10" r="1.35" fill="#f7941d" stroke="#2a0a18" stroke-width="0.35"/>
<circle cx="327.00" cy="573.93" r="1.35" fill="#c8102e" stroke="#2a0a18" stroke-width="0.35"/>
<line x1="328.1" y1="566.5" x2="328.1" y2="572.1" stroke="#6f8fb8" stroke-width="0.8"/>
<circle cx="328.10" cy="572.10" r="1.35" fill="#1a4f8b" stroke="#2a0a18" stroke-width="0.35"/>
<circle cx="328.10" cy="573.93" r="1.35" fill="#1a4f8b" stroke="#2a0a18" stroke-width="0.35"/>
<line x1="330.5" y1="566.5" x2="330.5" y2="572.1" stroke="#6f8fb8" stroke-width="0.8"/>
<circle cx="330.50" cy="572.10" r="1.35" fill="#1a4f8b" stroke="#2a0a18" stroke-width="0.35"/>
<circle cx="330.50" cy="573.93" r="1.35" fill="#1a4f8b" stroke="#2a0a18" stroke-width="0.35"/>
<circle cx="330.50" cy="575.76" r="1.35" fill="#1a4f8b" stroke="#2a0a18" stroke-width="0.35"/>
<circle cx="330.50" cy="577.59" r="1.35" fill="#1a4f8b" stroke="#2a0a18" stroke-width="0.35"/>
<line x1="331.9" y1="566.5" x2="331.9" y2="572.1" stroke="#9a79ae" stroke-width="0.8"/>
<circle cx="331.90" cy="572.10" r="1.35" fill="#5c2479" stroke="#2a0a18" stroke-width="0.35"/>
<line x1="335.5" y1="566.5" x2="335.5" y2="572.1" stroke="#7acd84" stroke-width="0.8"/>
<circle cx="335.50" cy="572.10" r="1.35" fill="#3ab54a" stroke="#2a0a18" stroke-width="0.35"/>
<line x1="350.1" y1="566.5" x2="350.1" y2="572.1" stroke="#7acd84" stroke-width="0.8"/>
<circle cx="350.10" cy="572.10" r="1.35" fill="#3ab54a" stroke="#2a0a18" stroke-width="0.35"/>
<circle cx="350.10" cy="573.93" r="1.35" fill="#3ab54a" stroke="#2a0a18" stroke-width="0.35"/>
<circle cx="350.10" cy="575.76" r="1.35" fill="#3ab54a" stroke="#2a0a18" stroke-width="0.35"/>
<line x1="352.7" y1="566.5" x2="352.7" y2="572.1" stroke="#f9b45e" stroke-width="0.8"/>
<circle cx="352.70" cy="572.10" r="1.35" fill="#f7941d" stroke="#2a0a18" stroke-width="0.35"/>
<line x1="359" y1="566.5" x2="359" y2="572.1" stroke="#9a79ae" stroke-width="0.8"/>
<circle cx="359.00" cy="572.10" r="1.35" fill="#5c2479" stroke="#2a0a18" stroke-width="0.35"/>
<line x1="149.8" y1="566.5" x2="149.8" y2="573.5" stroke="#6f8fb8" stroke-width="0.8"/>
<circle cx="149.80" cy="573.50" r="1.35" fill="#1a4f8b" stroke="#2a0a18" stroke-width="0.35"/>
<circle cx="149.80" cy="575.33" r="1.35" fill="#1a4f8b" stroke="#2a0a18" stroke-width="0.35"/>
<circle cx="149.80" cy="577.16" r="1.35" fill="#1a4f8b" stroke="#2a0a18" stroke-width="0.35"/>
<circle cx="149.80" cy="578.99" r="1.35" fill="#1a4f8b" stroke="#2a0a18" stroke-width="0.35"/>
<circle cx="149.80" cy="580.82" r="1.35" fill="#1a4f8b" stroke="#2a0a18" stroke-width="0.35"/>
<circle cx="149.80" cy="582.65" r="1.35" fill="#1a4f8b" stroke="#2a0a18" stroke-width="0.35"/>
<circle cx="149.80" cy="584.48" r="1.35" fill="#1a4f8b" stroke="#2a0a18" stroke-width="0.35"/>
<circle cx="149.80" cy="586.31" r="1.35" fill="#1a4f8b" stroke="#2a0a18" stroke-width="0.35"/>
<circle cx="149.80" cy="588.14" r="1.35" fill="#1a4f8b" stroke="#2a0a18" stroke-width="0.35"/>
<circle cx="149.80" cy="589.97" r="1.35" fill="#1a4f8b" stroke="#2a0a18" stroke-width="0.35"/>
<circle cx="149.80" cy="591.80" r="1.35" fill="#1a4f8b" stroke="#2a0a18" stroke-width="0.35"/>
<circle cx="149.80" cy="593.63" r="1.35" fill="#1a4f8b" stroke="#2a0a18" stroke-width="0.35"/>
<circle cx="149.80" cy="595.46" r="1.35" fill="#1a4f8b" stroke="#2a0a18" stroke-width="0.35"/>
<circle cx="149.80" cy="597.29" r="1.35" fill="#1a4f8b" stroke="#2a0a18" stroke-width="0.35"/>
<circle cx="149.80" cy="599.12" r="1.35" fill="#1a4f8b" stroke="#2a0a18" stroke-width="0.35"/>
<line x1="33.2" y1="566.5" x2="33.2" y2="571.5" stroke="#9a79ae" stroke-width="0.8"/>
<circle cx="33.20" cy="571.50" r="1.35" fill="#5c2479" stroke="#2a0a18" stroke-width="0.35"/>
<circle cx="33.20" cy="573.33" r="1.35" fill="#5c2479" stroke="#2a0a18" stroke-width="0.35"/>
<circle cx="33.20" cy="575.16" r="1.35" fill="#5c2479" stroke="#2a0a18" stroke-width="0.35"/>
<circle cx="33.20" cy="576.99" r="1.35" fill="#5c2479" stroke="#2a0a18" stroke-width="0.35"/>
<circle cx="33.20" cy="578.82" r="1.35" fill="#5c2479" stroke="#2a0a18" stroke-width="0.35"/>
<circle cx="33.20" cy="580.65" r="1.35" fill="#5c2479" stroke="#2a0a18" stroke-width="0.35"/>
<circle cx="33.20" cy="582.48" r="1.35" fill="#5c2479" stroke="#2a0a18" stroke-width="0.35"/>
<circle cx="33.20" cy="584.31" r="1.35" fill="#5c2479" stroke="#2a0a18" stroke-width="0.35"/>
<circle cx="33.20" cy="586.14" r="1.35" fill="#5c2479" stroke="#2a0a18" stroke-width="0.35"/>
<circle cx="33.20" cy="587.97" r="1.35" fill="#5c2479" stroke="#2a0a18" stroke-width="0.35"/>
<circle cx="33.20" cy="589.80" r="1.35" fill="#5c2479" stroke="#2a0a18" stroke-width="0.35"/>
<circle cx="33.20" cy="591.63" r="1.35" fill="#5c2479" stroke="#2a0a18" stroke-width="0.35"/>
<circle cx="33.20" cy="593.46" r="1.35" fill="#5c2479" stroke="#2a0a18" stroke-width="0.35"/>
<circle cx="33.20" cy="595.29" r="1.35" fill="#5c2479" stroke="#2a0a18" stroke-width="0.35"/>
<circle cx="33.20" cy="597.12" r="1.35" fill="#5c2479" stroke="#2a0a18" stroke-width="0.35"/>
<circle cx="33.20" cy="598.95" r="1.35" fill="#5c2479" stroke="#2a0a18" stroke-width="0.35"/>
<circle cx="33.20" cy="600.78" r="1.35" fill="#5c2479" stroke="#2a0a18" stroke-width="0.35"/>
<circle cx="33.20" cy="602.61" r="1.35" fill="#5c2479" stroke="#2a0a18" stroke-width="0.35"/>
<circle cx="33.20" cy="604.44" r="1.35" fill="#5c2479" stroke="#2a0a18" stroke-width="0.35"/>
<circle cx="33.20" cy="606.27" r="1.35" fill="#5c2479" stroke="#2a0a18" stroke-width="0.35"/>
<circle cx="33.20" cy="608.10" r="1.35" fill="#f7941d" stroke="#2a0a18" stroke-width="0.35"/>
<circle cx="33.20" cy="609.93" r="1.35" fill="#c8102e" stroke="#2a0a18" stroke-width="0.35"/>
<circle cx="33.20" cy="611.76" r="1.35" fill="#c8102e" stroke="#2a0a18" stroke-width="0.35"/>
<circle cx="33.20" cy="613.59" r="1.35" fill="#c8102e" stroke="#2a0a18" stroke-width="0.35"/>
<circle cx="33.20" cy="615.42" r="1.35" fill="#c8102e" stroke="#2a0a18" stroke-width="0.35"/>
<circle cx="33.20" cy="617.25" r="1.35" fill="#c8102e" stroke="#2a0a18" stroke-width="0.35"/>
<circle cx="33.20" cy="619.08" r="1.35" fill="#c8102e" stroke="#2a0a18" stroke-width="0.35"/>
<circle cx="33.20" cy="620.91" r="1.35" fill="#c8102e" stroke="#2a0a18" stroke-width="0.35"/>
<circle cx="33.20" cy="622.74" r="1.35" fill="#c8102e" stroke="#2a0a18" stroke-width="0.35"/>
<circle cx="33.20" cy="624.57" r="1.35" fill="#c8102e" stroke="#2a0a18" stroke-width="0.35"/>
<circle cx="33.20" cy="626.40" r="1.35" fill="#c8102e" stroke="#2a0a18" stroke-width="0.35"/>
<circle cx="33.20" cy="628.23" r="1.35" fill="#c8102e" stroke="#2a0a18" stroke-width="0.35"/>
<circle cx="33.20" cy="630.06" r="1.35" fill="#c8102e" stroke="#2a0a18" stroke-width="0.35"/>
<circle cx="33.20" cy="631.89" r="1.35" fill="#c8102e" stroke="#2a0a18" stroke-width="0.35"/>
<circle cx="33.20" cy="633.72" r="1.35" fill="#c8102e" stroke="#2a0a18" stroke-width="0.35"/>
<circle cx="33.20" cy="635.55" r="1.35" fill="#c8102e" stroke="#2a0a18" stroke-width="0.35"/>
<circle cx="33.20" cy="637.38" r="1.35" fill="#c8102e" stroke="#2a0a18" stroke-width="0.35"/>
<circle cx="33.20" cy="639.21" r="1.35" fill="#c8102e" stroke="#2a0a18" stroke-width="0.35"/>
<circle cx="33.20" cy="641.04" r="1.35" fill="#c8102e" stroke="#2a0a18" stroke-width="0.35"/>
<circle cx="33.20" cy="642.87" r="1.35" fill="#c8102e" stroke="#2a0a18" stroke-width="0.35"/>
<circle cx="33.20" cy="644.70" r="1.35" fill="#c8102e" stroke="#2a0a18" stroke-width="0.35"/>
<circle cx="33.20" cy="646.53" r="1.35" fill="#c8102e" stroke="#2a0a18" stroke-width="0.35"/>
<circle cx="33.20" cy="648.36" r="1.35" fill="#c8102e" stroke="#2a0a18" stroke-width="0.35"/>
<circle cx="33.20" cy="650.19" r="1.35" fill="#c8102e" stroke="#2a0a18" stroke-width="0.35"/>
<circle cx="33.20" cy="652.02" r="1.35" fill="#c8102e" stroke="#2a0a18" stroke-width="0.35"/>
<circle cx="33.20" cy="653.85" r="1.35" fill="#c8102e" stroke="#2a0a18" stroke-width="0.35"/>
<circle cx="33.20" cy="655.68" r="1.35" fill="#c8102e" stroke="#2a0a18" stroke-width="0.35"/>
<circle cx="33.20" cy="657.51" r="1.35" fill="#c8102e" stroke="#2a0a18" stroke-width="0.35"/>
<circle cx="33.20" cy="659.34" r="1.35" fill="#c8102e" stroke="#2a0a18" stroke-width="0.35"/>
<circle cx="33.20" cy="661.17" r="1.35" fill="#c8102e" stroke="#2a0a18" stroke-width="0.35"/>
<circle cx="33.20" cy="663.00" r="1.35" fill="#c8102e" stroke="#2a0a18" stroke-width="0.35"/>
<circle cx="33.20" cy="664.83" r="1.35" fill="#c8102e" stroke="#2a0a18" stroke-width="0.35"/>
<circle cx="33.20" cy="666.66" r="1.35" fill="#c8102e" stroke="#2a0a18" stroke-width="0.35"/>
<circle cx="33.20" cy="668.49" r="1.35" fill="#c8102e" stroke="#2a0a18" stroke-width="0.35"/>
<circle cx="33.20" cy="670.32" r="1.35" fill="#c8102e" stroke="#2a0a18" stroke-width="0.35"/>
<circle cx="33.20" cy="672.15" r="1.35" fill="#c8102e" stroke="#2a0a18" stroke-width="0.35"/>
<circle cx="33.20" cy="673.98" r="1.35" fill="#c8102e" stroke="#2a0a18" stroke-width="0.35"/>
<circle cx="33.20" cy="675.81" r="1.35" fill="#c8102e" stroke="#2a0a18" stroke-width="0.35"/>
<circle cx="33.20" cy="677.64" r="1.35" fill="#c8102e" stroke="#2a0a18" stroke-width="0.35"/>
<circle cx="33.20" cy="679.47" r="1.35" fill="#c8102e" stroke="#2a0a18" stroke-width="0.35"/>
<circle cx="33.20" cy="681.30" r="1.35" fill="#c8102e" stroke="#2a0a18" stroke-width="0.35"/>
<circle cx="33.20" cy="683.13" r="1.35" fill="#c8102e" stroke="#2a0a18" stroke-width="0.35"/>
<line x1="290.5" y1="566.5" x2="290.5" y2="573.9" stroke="#f9b45e" stroke-width="0.8"/>
<circle cx="290.50" cy="573.90" r="1.35" fill="#f7941d" stroke="#2a0a18" stroke-width="0.35"/>
<circle cx="290.50" cy="575.73" r="1.35" fill="#f7941d" stroke="#2a0a18" stroke-width="0.35"/>
<circle cx="290.50" cy="577.56" r="1.35" fill="#f7941d" stroke="#2a0a18" stroke-width="0.35"/>
<circle cx="290.50" cy="579.39" r="1.35" fill="#f7941d" stroke="#2a0a18" stroke-width="0.35"/>
<circle cx="290.50" cy="581.22" r="1.35" fill="#f7941d" stroke="#2a0a18" stroke-width="0.35"/>
<text x="55.4" y="497.1" font-size="7.4" text-anchor="middle" fill="#231f20" stroke="#231f20" stroke-width="0.1" textLength="13.3" lengthAdjust="spacingAndGlyphs">R7X</text>
<text x="55.2" y="504.1" font-size="7.4" text-anchor="middle" fill="#231f20" stroke="#231f20" stroke-width="0.1" textLength="20.8" lengthAdjust="spacingAndGlyphs">n = 13</text>
<text x="54.75" y="515.6" font-size="7.4" text-anchor="middle" fill="#231f20" stroke="#231f20" stroke-width="0.1" textLength="13.7" lengthAdjust="spacingAndGlyphs">R7fs</text>
<text x="54.45" y="522.7" font-size="7.4" text-anchor="middle" fill="#231f20" stroke="#231f20" stroke-width="0.1" textLength="16.9" lengthAdjust="spacingAndGlyphs">n = 8</text>
<line x1="36.8" y1="505.3" x2="43.9" y2="498.8" stroke="#231f20" stroke-width="0.7"/>
<line x1="37.1" y1="524" x2="44.5" y2="517" stroke="#231f20" stroke-width="0.7"/>
<text x="177" y="500.964" font-size="7.4" text-anchor="middle" fill="#231f20" stroke="#231f20" stroke-width="0.1" textLength="19" lengthAdjust="spacingAndGlyphs">C125</text>
<text x="177" y="508.464" font-size="7.4" text-anchor="middle" fill="#231f20" stroke="#231f20" stroke-width="0.1" textLength="30" lengthAdjust="spacingAndGlyphs">missense</text>
<text x="177.6" y="515.664" font-size="7.4" text-anchor="middle" fill="#231f20" stroke="#231f20" stroke-width="0.1" textLength="17.3" lengthAdjust="spacingAndGlyphs">n = 6</text>
<line x1="156.5" y1="520.2" x2="163.3" y2="514.4" stroke="#231f20" stroke-width="0.7"/>
<text x="348.9" y="505.164" font-size="7.4" text-anchor="middle" fill="#231f20" stroke="#231f20" stroke-width="0.1" textLength="21.1" lengthAdjust="spacingAndGlyphs">Y281fs</text>
<text x="348.9" y="511.864" font-size="7.4" text-anchor="middle" fill="#231f20" stroke="#231f20" stroke-width="0.1" textLength="17.3" lengthAdjust="spacingAndGlyphs">n = 7</text>
<line x1="329.6" y1="518.8" x2="337.3" y2="512.1" stroke="#231f20" stroke-width="0.7"/>
<text x="30.4" y="547.0120000000001" font-size="6.7" text-anchor="start" fill="#231f20" stroke="#231f20" stroke-width="0.1" textLength="18.8" lengthAdjust="spacingAndGlyphs">Exon 1</text>
<text x="30.4" y="553.212" font-size="6.7" text-anchor="start" fill="#231f20" stroke="#231f20" stroke-width="0.1" textLength="17.2" lengthAdjust="spacingAndGlyphs">Signal</text>
<text x="30.4" y="559.5120000000001" font-size="6.7" text-anchor="start" fill="#231f20" stroke="#231f20" stroke-width="0.1" textLength="22.1" lengthAdjust="spacingAndGlyphs">peptide</text>
<text x="76" y="547.0120000000001" font-size="6.7" text-anchor="start" fill="#231f20" stroke="#231f20" stroke-width="0.1" textLength="19.4" lengthAdjust="spacingAndGlyphs">Exon 2</text>
<text x="76" y="553.212" font-size="6.7" text-anchor="start" fill="#231f20" stroke="#231f20" stroke-width="0.1" textLength="20.1" lengthAdjust="spacingAndGlyphs">Apha-1</text>
<text x="76" y="559.5120000000001" font-size="6.7" text-anchor="start" fill="#231f20" stroke="#231f20" stroke-width="0.1" textLength="21" lengthAdjust="spacingAndGlyphs">domain</text>
<text x="162" y="547.0120000000001" font-size="6.7" text-anchor="start" fill="#231f20" stroke="#231f20" stroke-width="0.1" textLength="19.4" lengthAdjust="spacingAndGlyphs">Exon 3</text>
<text x="162" y="553.412" font-size="6.7" text-anchor="start" fill="#231f20" stroke="#231f20" stroke-width="0.1" textLength="20.2" lengthAdjust="spacingAndGlyphs">Apha-2</text>
<text x="162" y="559.712" font-size="6.7" text-anchor="start" fill="#231f20" stroke="#231f20" stroke-width="0.1" textLength="21.2" lengthAdjust="spacingAndGlyphs">domain</text>
<text x="301.9" y="547.212" font-size="6.7" text-anchor="start" fill="#231f20" stroke="#231f20" stroke-width="0.1" textLength="19.4" lengthAdjust="spacingAndGlyphs">Exon 4</text>
<text x="301.9" y="553.6120000000001" font-size="6.7" text-anchor="start" fill="#231f20" stroke="#231f20" stroke-width="0.1" textLength="20.8" lengthAdjust="spacingAndGlyphs">Apha-3</text>
<text x="301.9" y="559.712" font-size="6.7" text-anchor="start" fill="#231f20" stroke="#231f20" stroke-width="0.1" textLength="21.2" lengthAdjust="spacingAndGlyphs">domain</text>
<text x="362.4" y="547.412" font-size="6.7" text-anchor="middle" fill="#231f20" stroke="#231f20" stroke-width="0.1" textLength="19.4" lengthAdjust="spacingAndGlyphs">Exon 5</text>
<text x="362.4" y="553.6120000000001" font-size="6.7" text-anchor="middle" fill="#231f20" stroke="#231f20" stroke-width="0.1" textLength="45.6" lengthAdjust="spacingAndGlyphs">Transmembrane</text>
<text x="362.4" y="559.812" font-size="6.7" text-anchor="middle" fill="#231f20" stroke="#231f20" stroke-width="0.1" textLength="18.3" lengthAdjust="spacingAndGlyphs">region</text>
<text x="438.7" y="547.0120000000001" font-size="6.7" text-anchor="start" fill="#231f20" stroke="#231f20" stroke-width="0.1" textLength="19" lengthAdjust="spacingAndGlyphs">Exon 6</text>
<text x="466.7" y="547.0120000000001" font-size="6.7" text-anchor="start" fill="#231f20" stroke="#231f20" stroke-width="0.1" textLength="19" lengthAdjust="spacingAndGlyphs">Exon 7</text>
<text x="492" y="547.0120000000001" font-size="6.7" text-anchor="start" fill="#231f20" stroke="#231f20" stroke-width="0.1" textLength="19" lengthAdjust="spacingAndGlyphs">Exon 8</text>
<text x="440.4" y="557.212" font-size="6.7" text-anchor="start" fill="#231f20" stroke="#231f20" stroke-width="0.1" textLength="45" lengthAdjust="spacingAndGlyphs">Cytoplasmic tail</text>
<text x="54.6" y="596.5" font-size="7.4" text-anchor="middle" fill="#231f20" stroke="#231f20" stroke-width="0.1" textLength="13.4" lengthAdjust="spacingAndGlyphs">R7fs</text>
<text x="54.6" y="603.7" font-size="7.4" text-anchor="middle" fill="#231f20" stroke="#231f20" stroke-width="0.1" textLength="21.2" lengthAdjust="spacingAndGlyphs">n = 20</text>
<line x1="36.8" y1="585.9" x2="44" y2="593.6" stroke="#231f20" stroke-width="0.7"/>
<text x="16.7" y="613.664" font-size="7.4" text-anchor="middle" fill="#231f20" stroke="#231f20" stroke-width="0.1" textLength="15" lengthAdjust="spacingAndGlyphs">Start</text>
<text x="16.7" y="621.164" font-size="7.4" text-anchor="middle" fill="#231f20" stroke="#231f20" stroke-width="0.1" textLength="11.5" lengthAdjust="spacingAndGlyphs">loss</text>
<text x="17.1" y="628.064" font-size="7.4" text-anchor="middle" fill="#231f20" stroke="#231f20" stroke-width="0.1" textLength="21.2" lengthAdjust="spacingAndGlyphs">n = 15</text>
<line x1="20.8" y1="605.8" x2="27.7" y2="600" stroke="#231f20" stroke-width="0.7"/>
<text x="54.2" y="635.664" font-size="7.4" text-anchor="middle" fill="#231f20" stroke="#231f20" stroke-width="0.1" textLength="13.9" lengthAdjust="spacingAndGlyphs">R7X</text>
<text x="54.2" y="643.564" font-size="7.4" text-anchor="middle" fill="#231f20" stroke="#231f20" stroke-width="0.1" textLength="21.6" lengthAdjust="spacingAndGlyphs">n = 42</text>
<line x1="36.9" y1="625.4" x2="43.8" y2="632.3" stroke="#231f20" stroke-width="0.7"/>
<text x="101.8" y="603.364" font-size="7.4" text-anchor="middle" fill="#231f20" stroke="#231f20" stroke-width="0.1" textLength="23.5" lengthAdjust="spacingAndGlyphs">T105Q</text>
<text x="101.9" y="611.164" font-size="7.4" text-anchor="middle" fill="#231f20" stroke="#231f20" stroke-width="0.1" textLength="16.8" lengthAdjust="spacingAndGlyphs">n = 5</text>
<line x1="102.7" y1="585" x2="102.7" y2="595.4" stroke="#231f20" stroke-width="0.7"/>
<text x="144.9" y="621.364" font-size="7.4" text-anchor="middle" fill="#231f20" stroke="#231f20" stroke-width="0.1" textLength="20.2" lengthAdjust="spacingAndGlyphs">T118P</text>
<text x="148" y="629.4639999999999" font-size="7.4" text-anchor="middle" fill="#231f20" stroke="#231f20" stroke-width="0.1" textLength="21" lengthAdjust="spacingAndGlyphs">n = 11</text>
<line x1="149.6" y1="603" x2="149.6" y2="612.5" stroke="#231f20" stroke-width="0.7"/>
<text x="216.2" y="597.664" font-size="7.4" text-anchor="middle" fill="#231f20" stroke="#231f20" stroke-width="0.1" textLength="33.7" lengthAdjust="spacingAndGlyphs">Splice site</text>
<text x="216.4" y="605.164" font-size="7.4" text-anchor="middle" fill="#231f20" stroke="#231f20" stroke-width="0.1" textLength="26.9" lengthAdjust="spacingAndGlyphs">creation</text>
<text x="216.2" y="612.664" font-size="7.4" text-anchor="middle" fill="#231f20" stroke="#231f20" stroke-width="0.1" textLength="17.5" lengthAdjust="spacingAndGlyphs">n = 5</text>
<line x1="215.4" y1="578.8" x2="215.4" y2="591" stroke="#231f20" stroke-width="0.7"/>
<text x="291.8" y="602.9639999999999" font-size="7.4" text-anchor="middle" fill="#231f20" stroke="#231f20" stroke-width="0.1" textLength="22.2" lengthAdjust="spacingAndGlyphs">P209fs</text>
<text x="291.6" y="609.564" font-size="7.4" text-anchor="middle" fill="#231f20" stroke="#231f20" stroke-width="0.1" textLength="17.3" lengthAdjust="spacingAndGlyphs">n = 5</text>
<line x1="290.8" y1="583.5" x2="290.8" y2="594" stroke="#231f20" stroke-width="0.7"/>
<circle cx="363.10" cy="598.10" r="2.35" fill="#c8102e" stroke="#2a2a2a" stroke-width="0.8"/>
<text x="367.7" y="600.95" font-size="8.0" text-anchor="start" fill="#231f20" stroke="#231f20" stroke-width="0.1" textLength="32" lengthAdjust="spacingAndGlyphs">Nonsense</text>
<circle cx="363.10" cy="607.70" r="2.35" fill="#f7941d" stroke="#2a2a2a" stroke-width="0.8"/>
<text x="367.7" y="610.5500000000001" font-size="8.0" text-anchor="start" fill="#231f20" stroke="#231f20" stroke-width="0.1" textLength="65" lengthAdjust="spacingAndGlyphs">Frameshift insertion</text>
<circle cx="363.10" cy="617.30" r="2.35" fill="#5c2479" stroke="#2a2a2a" stroke-width="0.8"/>
<text x="367.7" y="620.1500000000001" font-size="8.0" text-anchor="start" fill="#231f20" stroke="#231f20" stroke-width="0.1" textLength="64" lengthAdjust="spacingAndGlyphs">Frameshift deletion</text>
<circle cx="363.10" cy="626.90" r="2.35" fill="#1a4f8b" stroke="#2a2a2a" stroke-width="0.8"/>
<text x="367.7" y="629.75" font-size="8.0" text-anchor="start" fill="#231f20" stroke="#231f20" stroke-width="0.1" textLength="29.5" lengthAdjust="spacingAndGlyphs">Missense</text>
<circle cx="363.10" cy="636.50" r="2.35" fill="#d8d8d8" stroke="#2a2a2a" stroke-width="0.8"/>
<text x="367.7" y="639.35" font-size="8.0" text-anchor="start" fill="#231f20" stroke="#231f20" stroke-width="0.1" textLength="41.5" lengthAdjust="spacingAndGlyphs">Synonymous</text>
<circle cx="363.10" cy="646.10" r="2.35" fill="#3ab54a" stroke="#2a2a2a" stroke-width="0.8"/>
<text x="367.7" y="648.95" font-size="8.0" text-anchor="start" fill="#231f20" stroke="#231f20" stroke-width="0.1" textLength="25.5" lengthAdjust="spacingAndGlyphs">Intronic</text>
<rect x="0" y="0" width="520" height="1.15" fill="#000"/><rect x="0" y="0" width="1.05" height="692" fill="#000"/><rect x="518.85" y="0" width="1.15" height="692" fill="#000"/><rect x="0" y="690.7" width="520" height="1.3" fill="#000"/>
</svg>
</body></html>
